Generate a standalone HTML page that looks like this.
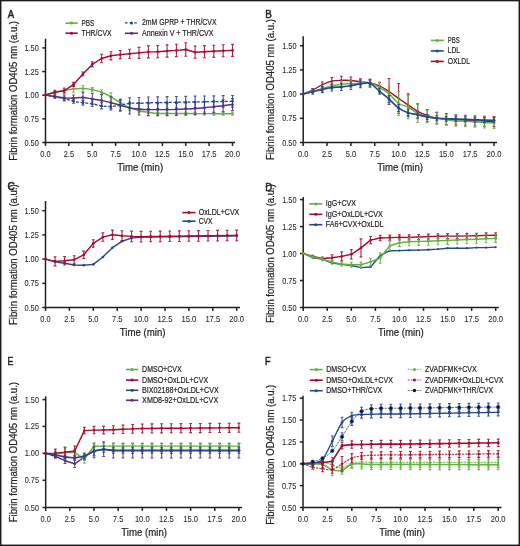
<!DOCTYPE html>
<html><head><meta charset="utf-8"><style>
html,body{margin:0;padding:0;background:#fff;}
body{width:520px;height:546px;overflow:hidden;}
svg{display:block;font-family:"Liberation Sans", sans-serif;will-change:transform;}
</style></head><body>
<svg width="520" height="546" viewBox="0 0 520 546">
<rect x="0" y="0" width="520" height="546" fill="#fff"/>
<g stroke="#231f20" stroke-width="1.5" fill="none">
<path d="M45.5 38.7V142.5H235"/>
<path d="M42.3 142.5H45.5"/>
<path d="M42.3 118.85H45.5"/>
<path d="M42.3 95.2H45.5"/>
<path d="M42.3 71.55H45.5"/>
<path d="M42.3 47.9H45.5"/>
<path d="M45.5 142.5V145.9"/>
<path d="M68.88 142.5V145.9"/>
<path d="M92.25 142.5V145.9"/>
<path d="M115.62 142.5V145.9"/>
<path d="M139 142.5V145.9"/>
<path d="M162.38 142.5V145.9"/>
<path d="M185.75 142.5V145.9"/>
<path d="M209.12 142.5V145.9"/>
<path d="M232.5 142.5V145.9"/>
</g>
<g fill="#231f20" stroke="#231f20" stroke-width="0.22">
<text x="38.8" y="145.5" font-size="8.6" text-anchor="end" textLength="14.3" lengthAdjust="spacingAndGlyphs" stroke-width="0.08">0.50</text>
<text x="38.8" y="121.85" font-size="8.6" text-anchor="end" textLength="14.3" lengthAdjust="spacingAndGlyphs" stroke-width="0.08">0.75</text>
<text x="38.8" y="98.2" font-size="8.6" text-anchor="end" textLength="14.3" lengthAdjust="spacingAndGlyphs" stroke-width="0.08">1.00</text>
<text x="38.8" y="74.55" font-size="8.6" text-anchor="end" textLength="14.3" lengthAdjust="spacingAndGlyphs" stroke-width="0.08">1.25</text>
<text x="38.8" y="50.9" font-size="8.6" text-anchor="end" textLength="14.3" lengthAdjust="spacingAndGlyphs" stroke-width="0.08">1.50</text>
<text x="45.5" y="157" font-size="8.6" text-anchor="middle" textLength="10.3" lengthAdjust="spacingAndGlyphs" stroke-width="0.08">0.0</text>
<text x="68.88" y="157" font-size="8.6" text-anchor="middle" textLength="10.3" lengthAdjust="spacingAndGlyphs" stroke-width="0.08">2.5</text>
<text x="92.25" y="157" font-size="8.6" text-anchor="middle" textLength="10.3" lengthAdjust="spacingAndGlyphs" stroke-width="0.08">5.0</text>
<text x="115.62" y="157" font-size="8.6" text-anchor="middle" textLength="10.3" lengthAdjust="spacingAndGlyphs" stroke-width="0.08">7.5</text>
<text x="139" y="157" font-size="8.6" text-anchor="middle" textLength="14.8" lengthAdjust="spacingAndGlyphs" stroke-width="0.08">10.0</text>
<text x="162.38" y="157" font-size="8.6" text-anchor="middle" textLength="14.8" lengthAdjust="spacingAndGlyphs" stroke-width="0.08">12.5</text>
<text x="185.75" y="157" font-size="8.6" text-anchor="middle" textLength="14.8" lengthAdjust="spacingAndGlyphs" stroke-width="0.08">15.0</text>
<text x="209.12" y="157" font-size="8.6" text-anchor="middle" textLength="14.8" lengthAdjust="spacingAndGlyphs" stroke-width="0.08">17.5</text>
<text x="232.5" y="157" font-size="8.6" text-anchor="middle" textLength="14.8" lengthAdjust="spacingAndGlyphs" stroke-width="0.08">20.0</text>
<text x="140.2" y="170.9" font-size="10.6" text-anchor="middle" textLength="45.8" lengthAdjust="spacingAndGlyphs">Time (min)</text>
<text transform="translate(16.5 90.9) rotate(-90)" x="0" y="0" font-size="10.2" text-anchor="middle" textLength="139.8" lengthAdjust="spacingAndGlyphs">Fibrin formation OD405 nm (a.u.)</text>
<text x="7.8" y="18.3" font-size="11.8" stroke-width="0.55" textLength="6.4" lengthAdjust="spacingAndGlyphs">A</text>
</g>
<path d="M54.85 90.1V94.1M53.45 90.1h2.8M53.45 94.1h2.8M64.2 87.8V93.8M62.8 87.8h2.8M62.8 93.8h2.8M73.55 85.3V92.3M72.15 85.3h2.8M72.15 92.3h2.8M82.9 85.5V91.5M81.5 85.5h2.8M81.5 91.5h2.8M92.25 87.6V91.6M90.85 87.6h2.8M90.85 91.6h2.8M101.6 89.8V94.8M100.2 89.8h2.8M100.2 94.8h2.8M110.95 92.9V100.9M109.55 92.9h2.8M109.55 100.9h2.8M120.3 99.2V106.2M118.9 99.2h2.8M118.9 106.2h2.8M129.65 104.7V110.7M128.25 104.7h2.8M128.25 110.7h2.8M139 108.7V112.7M137.6 108.7h2.8M137.6 112.7h2.8M148.35 110.8V113.8M146.95 110.8h2.8M146.95 113.8h2.8M157.7 112V115M156.3 112h2.8M156.3 115h2.8M167.05 112.03V115.03M165.65 112.03h2.8M165.65 115.03h2.8M176.4 112.05V115.05M175 112.05h2.8M175 115.05h2.8M185.75 112.08V115.08M184.35 112.08h2.8M184.35 115.08h2.8M195.1 112.1V115.1M193.7 112.1h2.8M193.7 115.1h2.8M204.45 112.12V115.12M203.05 112.12h2.8M203.05 115.12h2.8M213.8 112.15V115.15M212.4 112.15h2.8M212.4 115.15h2.8M223.15 112.17V115.17M221.75 112.17h2.8M221.75 115.17h2.8M232.5 112.2V115.2M231.1 112.2h2.8M231.1 115.2h2.8" stroke="#62b23e" stroke-width="1.1" fill="none" opacity="0.9"/>
<path d="M45.5 95C47.06 94.52 51.73 92.8 54.85 92.1C57.97 91.4 61.08 91.35 64.2 90.8C67.32 90.25 70.43 89.18 73.55 88.8C76.67 88.42 79.78 88.37 82.9 88.5C86.02 88.63 89.13 88.97 92.25 89.6C95.37 90.23 98.48 91.08 101.6 92.3C104.72 93.52 107.83 95.17 110.95 96.9C114.07 98.63 117.18 100.9 120.3 102.7C123.42 104.5 126.53 106.37 129.65 107.7C132.77 109.03 135.88 109.93 139 110.7C142.12 111.47 145.23 111.83 148.35 112.3C151.47 112.77 154.58 113.3 157.7 113.5C160.82 113.7 163.93 113.52 167.05 113.53C170.17 113.53 173.28 113.54 176.4 113.55C179.52 113.56 182.63 113.57 185.75 113.58C188.87 113.58 191.98 113.59 195.1 113.6C198.22 113.61 201.33 113.62 204.45 113.62C207.57 113.63 210.68 113.64 213.8 113.65C216.92 113.66 220.03 113.67 223.15 113.67C226.27 113.68 230.94 113.7 232.5 113.7" stroke="#62b23e" stroke-width="1.45" fill="none" stroke-linejoin="round" opacity="1"/>
<g fill="#62b23e"><circle cx="45.5" cy="95" r="1.3"/><circle cx="54.85" cy="92.1" r="1.3"/><circle cx="64.2" cy="90.8" r="1.3"/><circle cx="73.55" cy="88.8" r="1.3"/><circle cx="82.9" cy="88.5" r="1.3"/><circle cx="92.25" cy="89.6" r="1.3"/><circle cx="101.6" cy="92.3" r="1.3"/><circle cx="110.95" cy="96.9" r="1.3"/><circle cx="120.3" cy="102.7" r="1.3"/><circle cx="129.65" cy="107.7" r="1.3"/><circle cx="139" cy="110.7" r="1.3"/><circle cx="148.35" cy="112.3" r="1.3"/><circle cx="157.7" cy="113.5" r="1.3"/><circle cx="167.05" cy="113.53" r="1.3"/><circle cx="176.4" cy="113.55" r="1.3"/><circle cx="185.75" cy="113.58" r="1.3"/><circle cx="195.1" cy="113.6" r="1.3"/><circle cx="204.45" cy="113.62" r="1.3"/><circle cx="213.8" cy="113.65" r="1.3"/><circle cx="223.15" cy="113.67" r="1.3"/><circle cx="232.5" cy="113.7" r="1.3"/></g>
<path d="M54.85 95V98M53.45 95h2.8M53.45 98h2.8M64.2 95V101M62.8 95h2.8M62.8 101h2.8M73.55 95V101M72.15 95h2.8M72.15 101h2.8M82.9 92.5V102.5M81.5 92.5h2.8M81.5 102.5h2.8M92.25 93.5V104.5M90.85 93.5h2.8M90.85 104.5h2.8M101.6 94.4V106.4M100.2 94.4h2.8M100.2 106.4h2.8M110.95 96.7V108.7M109.55 96.7h2.8M109.55 108.7h2.8M120.3 99.2V111.2M118.9 99.2h2.8M118.9 111.2h2.8M129.65 102V114M128.25 102h2.8M128.25 114h2.8M139 103V115M137.6 103h2.8M137.6 115h2.8M148.35 103.6V115.6M146.95 103.6h2.8M146.95 115.6h2.8M157.7 103.6V115.6M156.3 103.6h2.8M156.3 115.6h2.8M167.05 103.6V115.6M165.65 103.6h2.8M165.65 115.6h2.8M176.4 103.4V115.4M175 103.4h2.8M175 115.4h2.8M185.75 103V115M184.35 103h2.8M184.35 115h2.8M195.1 102.5V114.5M193.7 102.5h2.8M193.7 114.5h2.8M204.45 101.7V113.7M203.05 101.7h2.8M203.05 113.7h2.8M213.8 100.7V112.7M212.4 100.7h2.8M212.4 112.7h2.8M223.15 99.8V111.8M221.75 99.8h2.8M221.75 111.8h2.8M232.5 98.6V110.6M231.1 98.6h2.8M231.1 110.6h2.8" stroke="#5c2d84" stroke-width="1.1" fill="none" opacity="0.9"/>
<path d="M45.5 95C47.06 95.25 51.73 96 54.85 96.5C57.97 97 61.08 97.75 64.2 98C67.32 98.25 70.43 98.08 73.55 98C76.67 97.92 79.78 97.33 82.9 97.5C86.02 97.67 89.13 98.52 92.25 99C95.37 99.48 98.48 99.78 101.6 100.4C104.72 101.02 107.83 101.9 110.95 102.7C114.07 103.5 117.18 104.32 120.3 105.2C123.42 106.08 126.53 107.37 129.65 108C132.77 108.63 135.88 108.73 139 109C142.12 109.27 145.23 109.5 148.35 109.6C151.47 109.7 154.58 109.6 157.7 109.6C160.82 109.6 163.93 109.63 167.05 109.6C170.17 109.57 173.28 109.5 176.4 109.4C179.52 109.3 182.63 109.15 185.75 109C188.87 108.85 191.98 108.72 195.1 108.5C198.22 108.28 201.33 108 204.45 107.7C207.57 107.4 210.68 107.02 213.8 106.7C216.92 106.38 220.03 106.15 223.15 105.8C226.27 105.45 230.94 104.8 232.5 104.6" stroke="#5c2d84" stroke-width="1.45" fill="none" stroke-linejoin="round" opacity="1"/>
<g fill="#5c2d84"><circle cx="45.5" cy="95" r="1.3"/><circle cx="54.85" cy="96.5" r="1.3"/><circle cx="64.2" cy="98" r="1.3"/><circle cx="73.55" cy="98" r="1.3"/><circle cx="82.9" cy="97.5" r="1.3"/><circle cx="92.25" cy="99" r="1.3"/><circle cx="101.6" cy="100.4" r="1.3"/><circle cx="110.95" cy="102.7" r="1.3"/><circle cx="120.3" cy="105.2" r="1.3"/><circle cx="129.65" cy="108" r="1.3"/><circle cx="139" cy="109" r="1.3"/><circle cx="148.35" cy="109.6" r="1.3"/><circle cx="157.7" cy="109.6" r="1.3"/><circle cx="167.05" cy="109.6" r="1.3"/><circle cx="176.4" cy="109.4" r="1.3"/><circle cx="185.75" cy="109" r="1.3"/><circle cx="195.1" cy="108.5" r="1.3"/><circle cx="204.45" cy="107.7" r="1.3"/><circle cx="213.8" cy="106.7" r="1.3"/><circle cx="223.15" cy="105.8" r="1.3"/><circle cx="232.5" cy="104.6" r="1.3"/></g>
<path d="M54.85 95.9V97.9M53.45 95.9h2.8M53.45 97.9h2.8M64.2 97V100M62.8 97h2.8M62.8 100h2.8M73.55 99.3V103.3M72.15 99.3h2.8M72.15 103.3h2.8M82.9 100.33V105.08M81.5 100.33h2.8M81.5 105.08h2.8M92.25 101.05V106.55M90.85 101.05h2.8M90.85 106.55h2.8M101.6 102.67V108.92M100.2 102.67h2.8M100.2 108.92h2.8M110.95 103V110M109.55 103h2.8M109.55 110h2.8M120.3 100.2V110.2M118.9 100.2h2.8M118.9 110.2h2.8M129.65 97.8V108.8M128.25 97.8h2.8M128.25 108.8h2.8M139 97.5V109.1M137.6 97.5h2.8M137.6 109.1h2.8M148.35 97V108.6M146.95 97h2.8M146.95 108.6h2.8M157.7 96.83V108.43M156.3 96.83h2.8M156.3 108.43h2.8M167.05 96.67V108.27M165.65 96.67h2.8M165.65 108.27h2.8M176.4 96.5V108.1M175 96.5h2.8M175 108.1h2.8M185.75 96.33V107.93M184.35 96.33h2.8M184.35 107.93h2.8M195.1 96.17V107.77M193.7 96.17h2.8M193.7 107.77h2.8M204.45 96V107.6M203.05 96h2.8M203.05 107.6h2.8M213.8 95.83V107.43M212.4 95.83h2.8M212.4 107.43h2.8M223.15 95.67V107.27M221.75 95.67h2.8M221.75 107.27h2.8M232.5 95.5V107.1M231.1 95.5h2.8M231.1 107.1h2.8" stroke="#24488a" stroke-width="1.1" fill="none" opacity="0.9"/>
<path d="M45.5 95C47.06 95.32 51.73 96.32 54.85 96.9C57.97 97.48 61.08 97.77 64.2 98.5C67.32 99.23 70.43 100.6 73.55 101.3C76.67 102 79.78 102.28 82.9 102.7C86.02 103.12 89.13 103.28 92.25 103.8C95.37 104.32 98.48 105.35 101.6 105.8C104.72 106.25 107.83 106.6 110.95 106.5C114.07 106.4 117.18 105.73 120.3 105.2C123.42 104.67 126.53 103.62 129.65 103.3C132.77 102.98 135.88 103.38 139 103.3C142.12 103.22 145.23 102.91 148.35 102.8C151.47 102.69 154.58 102.69 157.7 102.63C160.82 102.58 163.93 102.52 167.05 102.47C170.17 102.41 173.28 102.36 176.4 102.3C179.52 102.24 182.63 102.19 185.75 102.13C188.87 102.08 191.98 102.02 195.1 101.97C198.22 101.91 201.33 101.86 204.45 101.8C207.57 101.74 210.68 101.69 213.8 101.63C216.92 101.58 220.03 101.52 223.15 101.47C226.27 101.41 230.94 101.33 232.5 101.3" stroke="#24488a" stroke-width="1.3" fill="none" stroke-dasharray="3 1.675" stroke-dashoffset="1.5" stroke-linejoin="round" opacity="1"/>
<g fill="#24488a"><circle cx="45.5" cy="95" r="1.3"/><circle cx="54.85" cy="96.9" r="1.3"/><circle cx="64.2" cy="98.5" r="1.3"/><circle cx="73.55" cy="101.3" r="1.3"/><circle cx="82.9" cy="102.7" r="1.3"/><circle cx="92.25" cy="103.8" r="1.3"/><circle cx="101.6" cy="105.8" r="1.3"/><circle cx="110.95" cy="106.5" r="1.3"/><circle cx="120.3" cy="105.2" r="1.3"/><circle cx="129.65" cy="103.3" r="1.3"/><circle cx="139" cy="103.3" r="1.3"/><circle cx="148.35" cy="102.8" r="1.3"/><circle cx="157.7" cy="102.63" r="1.3"/><circle cx="167.05" cy="102.47" r="1.3"/><circle cx="176.4" cy="102.3" r="1.3"/><circle cx="185.75" cy="102.13" r="1.3"/><circle cx="195.1" cy="101.97" r="1.3"/><circle cx="204.45" cy="101.8" r="1.3"/><circle cx="213.8" cy="101.63" r="1.3"/><circle cx="223.15" cy="101.47" r="1.3"/><circle cx="232.5" cy="101.3" r="1.3"/></g>
<path d="M54.85 90.8V93.8M53.45 90.8h2.8M53.45 93.8h2.8M64.2 88.8V92.8M62.8 88.8h2.8M62.8 92.8h2.8M73.55 82.4V86.4M72.15 82.4h2.8M72.15 86.4h2.8M82.9 72V76M81.5 72h2.8M81.5 76h2.8M92.25 61.9V66.9M90.85 61.9h2.8M90.85 66.9h2.8M101.6 54.2V62.8M100.2 54.2h2.8M100.2 62.8h2.8M110.95 51.7V59.9M109.55 51.7h2.8M109.55 59.9h2.8M120.3 50.6V58.6M118.9 50.6h2.8M118.9 58.6h2.8M129.65 49.2V58.2M128.25 49.2h2.8M128.25 58.2h2.8M139 47.4V58.4M137.6 47.4h2.8M137.6 58.4h2.8M148.35 45.9V57.9M146.95 45.9h2.8M146.95 57.9h2.8M157.7 45.63V57.77M156.3 45.63h2.8M156.3 57.77h2.8M167.05 44.87V57.13M165.65 44.87h2.8M165.65 57.13h2.8M176.4 44.2V56.6M175 44.2h2.8M175 56.6h2.8M185.75 42.7V56.3M184.35 42.7h2.8M184.35 56.3h2.8M195.1 46.1V58.3M193.7 46.1h2.8M193.7 58.3h2.8M204.45 45.62V57.78M203.05 45.62h2.8M203.05 57.78h2.8M213.8 45.25V57.35M212.4 45.25h2.8M212.4 57.35h2.8M223.15 44.77V56.82M221.75 44.77h2.8M221.75 56.82h2.8M232.5 44.4V56.4M231.1 44.4h2.8M231.1 56.4h2.8" stroke="#a90a32" stroke-width="1.1" fill="none" opacity="0.9"/>
<path d="M45.5 95 L54.85 92.3 L64.2 90.8 L73.55 84.4 L82.9 74 L92.25 64.4 L101.6 58.5 L110.95 55.8 L120.3 54.6 L129.65 53.7 L139 52.9 L148.35 51.9 L157.7 51.7 L167.05 51 L176.4 50.4 L185.75 49.5 L195.1 52.2 L204.45 51.7 L213.8 51.3 L223.15 50.8 L232.5 50.4" stroke="#a90a32" stroke-width="1.45" fill="none" stroke-linejoin="round" opacity="1"/>
<g fill="#a90a32"><circle cx="45.5" cy="95" r="1.3"/><circle cx="54.85" cy="92.3" r="1.3"/><circle cx="64.2" cy="90.8" r="1.3"/><circle cx="73.55" cy="84.4" r="1.3"/><circle cx="82.9" cy="74" r="1.3"/><circle cx="92.25" cy="64.4" r="1.3"/><circle cx="101.6" cy="58.5" r="1.3"/><circle cx="110.95" cy="55.8" r="1.3"/><circle cx="120.3" cy="54.6" r="1.3"/><circle cx="129.65" cy="53.7" r="1.3"/><circle cx="139" cy="52.9" r="1.3"/><circle cx="148.35" cy="51.9" r="1.3"/><circle cx="157.7" cy="51.7" r="1.3"/><circle cx="167.05" cy="51" r="1.3"/><circle cx="176.4" cy="50.4" r="1.3"/><circle cx="185.75" cy="49.5" r="1.3"/><circle cx="195.1" cy="52.2" r="1.3"/><circle cx="204.45" cy="51.7" r="1.3"/><circle cx="213.8" cy="51.3" r="1.3"/><circle cx="223.15" cy="50.8" r="1.3"/><circle cx="232.5" cy="50.4" r="1.3"/></g>
<path d="M65.4 23.1H77.7" stroke="#62b23e" stroke-width="1.6" opacity="1"/>
<circle cx="71.55" cy="23.1" r="1.5" fill="#62b23e"/>
<text x="81.5" y="25.6" font-size="9" fill="#231f20" stroke="#231f20" stroke-width="0.2" textLength="12.7" lengthAdjust="spacingAndGlyphs">PBS</text>
<path d="M65.4 33.2H77.7" stroke="#a90a32" stroke-width="1.6" opacity="1"/>
<circle cx="71.55" cy="33.2" r="1.5" fill="#a90a32"/>
<text x="81.5" y="35.7" font-size="9" fill="#231f20" stroke="#231f20" stroke-width="0.2" textLength="30" lengthAdjust="spacingAndGlyphs">THR/CVX</text>
<path d="M125 22.9H138" stroke="#24488a" stroke-width="1.4" stroke-dasharray="2.6 2" opacity="1"/>
<circle cx="131.5" cy="22.9" r="1.5" fill="#24488a"/>
<text x="142" y="25.4" font-size="9" fill="#231f20" stroke="#231f20" stroke-width="0.2" textLength="74.5" lengthAdjust="spacingAndGlyphs">2mM GPRP + THR/CVX</text>
<path d="M125 33.3H138" stroke="#5c2d84" stroke-width="1.6" opacity="1"/>
<circle cx="131.5" cy="33.3" r="1.5" fill="#5c2d84"/>
<text x="142" y="35.8" font-size="9" fill="#231f20" stroke="#231f20" stroke-width="0.2" textLength="71.5" lengthAdjust="spacingAndGlyphs">Annexin V + THR/CVX</text>
<g stroke="#231f20" stroke-width="1.5" fill="none">
<path d="M303.2 36.2V142.5H497"/>
<path d="M300 142.5H303.2"/>
<path d="M300 118.3H303.2"/>
<path d="M300 94.1H303.2"/>
<path d="M300 69.9H303.2"/>
<path d="M300 45.8H303.2"/>
<path d="M303.2 142.5V145.9"/>
<path d="M327.05 142.5V145.9"/>
<path d="M350.9 142.5V145.9"/>
<path d="M374.75 142.5V145.9"/>
<path d="M398.6 142.5V145.9"/>
<path d="M422.45 142.5V145.9"/>
<path d="M446.3 142.5V145.9"/>
<path d="M470.15 142.5V145.9"/>
<path d="M494 142.5V145.9"/>
</g>
<g fill="#231f20" stroke="#231f20" stroke-width="0.22">
<text x="296.5" y="145.5" font-size="8.6" text-anchor="end" textLength="14.3" lengthAdjust="spacingAndGlyphs" stroke-width="0.08">0.50</text>
<text x="296.5" y="121.3" font-size="8.6" text-anchor="end" textLength="14.3" lengthAdjust="spacingAndGlyphs" stroke-width="0.08">0.75</text>
<text x="296.5" y="97.1" font-size="8.6" text-anchor="end" textLength="14.3" lengthAdjust="spacingAndGlyphs" stroke-width="0.08">1.00</text>
<text x="296.5" y="72.9" font-size="8.6" text-anchor="end" textLength="14.3" lengthAdjust="spacingAndGlyphs" stroke-width="0.08">1.25</text>
<text x="296.5" y="48.8" font-size="8.6" text-anchor="end" textLength="14.3" lengthAdjust="spacingAndGlyphs" stroke-width="0.08">1.50</text>
<text x="303.2" y="157" font-size="8.6" text-anchor="middle" textLength="10.3" lengthAdjust="spacingAndGlyphs" stroke-width="0.08">0.0</text>
<text x="327.05" y="157" font-size="8.6" text-anchor="middle" textLength="10.3" lengthAdjust="spacingAndGlyphs" stroke-width="0.08">2.5</text>
<text x="350.9" y="157" font-size="8.6" text-anchor="middle" textLength="10.3" lengthAdjust="spacingAndGlyphs" stroke-width="0.08">5.0</text>
<text x="374.75" y="157" font-size="8.6" text-anchor="middle" textLength="10.3" lengthAdjust="spacingAndGlyphs" stroke-width="0.08">7.5</text>
<text x="398.6" y="157" font-size="8.6" text-anchor="middle" textLength="14.8" lengthAdjust="spacingAndGlyphs" stroke-width="0.08">10.0</text>
<text x="422.45" y="157" font-size="8.6" text-anchor="middle" textLength="14.8" lengthAdjust="spacingAndGlyphs" stroke-width="0.08">12.5</text>
<text x="446.3" y="157" font-size="8.6" text-anchor="middle" textLength="14.8" lengthAdjust="spacingAndGlyphs" stroke-width="0.08">15.0</text>
<text x="470.15" y="157" font-size="8.6" text-anchor="middle" textLength="14.8" lengthAdjust="spacingAndGlyphs" stroke-width="0.08">17.5</text>
<text x="494" y="157" font-size="8.6" text-anchor="middle" textLength="14.8" lengthAdjust="spacingAndGlyphs" stroke-width="0.08">20.0</text>
<text x="400.1" y="170.9" font-size="10.6" text-anchor="middle" textLength="45.8" lengthAdjust="spacingAndGlyphs">Time (min)</text>
<text transform="translate(273.8 89.5) rotate(-90)" x="0" y="0" font-size="10.2" text-anchor="middle" textLength="141" lengthAdjust="spacingAndGlyphs">Fibrin formation OD405 nm (a.u.)</text>
<text x="265.2" y="18.3" font-size="11.8" stroke-width="0.55" textLength="6.6" lengthAdjust="spacingAndGlyphs">B</text>
</g>
<path d="M312.74 88.5V91.5M311.34 88.5h2.8M311.34 91.5h2.8M322.28 82.05V87.45M320.88 82.05h2.8M320.88 87.45h2.8M331.82 77.6V84.8M330.42 77.6h2.8M330.42 84.8h2.8M341.36 76.3V84.3M339.96 76.3h2.8M339.96 84.3h2.8M350.9 77V84M349.5 77h2.8M349.5 84h2.8M360.44 78.8V84.8M359.04 78.8h2.8M359.04 84.8h2.8M369.98 80.3V85.3M368.58 80.3h2.8M368.58 85.3h2.8M379.52 82.8V88.8M378.12 82.8h2.8M378.12 88.8h2.8M389.06 78.5V104.5M387.66 78.5h2.8M387.66 104.5h2.8M398.6 83.5V113.5M397.2 83.5h2.8M397.2 113.5h2.8M408.14 93.9V115.9M406.74 93.9h2.8M406.74 115.9h2.8M417.68 103.9V118.7M416.28 103.9h2.8M416.28 118.7h2.8M427.22 109.5V121.5M425.82 109.5h2.8M425.82 121.5h2.8M436.76 112.4V124M435.36 112.4h2.8M435.36 124h2.8M446.3 113.5V124.5M444.9 113.5h2.8M444.9 124.5h2.8M455.84 114.9V124.9M454.44 114.9h2.8M454.44 124.9h2.8M465.38 115.3V125.3M463.98 115.3h2.8M463.98 125.3h2.8M474.92 115.8V125.8M473.52 115.8h2.8M473.52 125.8h2.8M484.46 116.2V126.2M483.06 116.2h2.8M483.06 126.2h2.8M494 116.6V126.6M492.6 116.6h2.8M492.6 126.6h2.8" stroke="#a90a32" stroke-width="1.1" fill="none" opacity="0.9"/>
<path d="M303.2 94C304.79 93.33 309.56 91.54 312.74 90C315.92 88.46 319.1 86.22 322.28 84.75C325.46 83.28 328.64 81.94 331.82 81.2C335 80.46 338.18 80.42 341.36 80.3C344.54 80.18 347.72 80.25 350.9 80.5C354.08 80.75 357.26 81.42 360.44 81.8C363.62 82.18 366.8 82.13 369.98 82.8C373.16 83.47 376.34 84.35 379.52 85.8C382.7 87.25 385.88 89.38 389.06 91.5C392.24 93.62 395.42 96.27 398.6 98.5C401.78 100.73 404.96 102.77 408.14 104.9C411.32 107.03 414.5 109.53 417.68 111.3C420.86 113.07 424.04 114.35 427.22 115.5C430.4 116.65 433.58 117.62 436.76 118.2C439.94 118.78 443.12 118.72 446.3 119C449.48 119.28 452.66 119.68 455.84 119.9C459.02 120.12 462.2 120.15 465.38 120.3C468.56 120.45 471.74 120.65 474.92 120.8C478.1 120.95 481.28 121.07 484.46 121.2C487.64 121.33 492.41 121.53 494 121.6" stroke="#a90a32" stroke-width="1.35" fill="none" stroke-linejoin="round" opacity="1"/>
<g fill="#a90a32"><circle cx="303.2" cy="94" r="1"/><circle cx="312.74" cy="90" r="1"/><circle cx="322.28" cy="84.75" r="1"/><circle cx="331.82" cy="81.2" r="1"/><circle cx="341.36" cy="80.3" r="1"/><circle cx="350.9" cy="80.5" r="1"/><circle cx="360.44" cy="81.8" r="1"/><circle cx="369.98" cy="82.8" r="1"/><circle cx="379.52" cy="85.8" r="1"/><circle cx="389.06" cy="91.5" r="1"/><circle cx="398.6" cy="98.5" r="1"/><circle cx="408.14" cy="104.9" r="1"/><circle cx="417.68" cy="111.3" r="1"/><circle cx="427.22" cy="115.5" r="1"/><circle cx="436.76" cy="118.2" r="1"/><circle cx="446.3" cy="119" r="1"/><circle cx="455.84" cy="119.9" r="1"/><circle cx="465.38" cy="120.3" r="1"/><circle cx="474.92" cy="120.8" r="1"/><circle cx="484.46" cy="121.2" r="1"/><circle cx="494" cy="121.6" r="1"/></g>
<path d="M312.74 89.3V93.3M311.34 89.3h2.8M311.34 93.3h2.8M322.28 85.6V91.6M320.88 85.6h2.8M320.88 91.6h2.8M331.82 82.9V89.1M330.42 82.9h2.8M330.42 89.1h2.8M341.36 81.1V87.5M339.96 81.1h2.8M339.96 87.5h2.8M350.9 80.4V87M349.5 80.4h2.8M349.5 87h2.8M360.44 79.9V86.7M359.04 79.9h2.8M359.04 86.7h2.8M369.98 79.3V86.3M368.58 79.3h2.8M368.58 86.3h2.8M379.52 82V93M378.12 82h2.8M378.12 93h2.8M389.06 86.8V100.8M387.66 86.8h2.8M387.66 100.8h2.8M398.6 91.5V115.5M397.2 91.5h2.8M397.2 115.5h2.8M408.14 95.4V118.6M406.74 95.4h2.8M406.74 118.6h2.8M417.68 104.4V122.4M416.28 104.4h2.8M416.28 122.4h2.8M427.22 110.2V122.8M425.82 110.2h2.8M425.82 122.8h2.8M436.76 112.7V123.7M435.36 112.7h2.8M435.36 123.7h2.8M446.3 114.2V125.2M444.9 114.2h2.8M444.9 125.2h2.8M455.84 115.3V126.3M454.44 115.3h2.8M454.44 126.3h2.8M465.38 115.7V126.7M463.98 115.7h2.8M463.98 126.7h2.8M474.92 116.3V127.3M473.52 116.3h2.8M473.52 127.3h2.8M484.46 117V128M483.06 117h2.8M483.06 128h2.8M494 117.4V128.4M492.6 117.4h2.8M492.6 128.4h2.8" stroke="#62b23e" stroke-width="1.1" fill="none" opacity="0.9"/>
<path d="M303.2 94C304.79 93.55 309.56 92.2 312.74 91.3C315.92 90.4 319.1 89.48 322.28 88.6C325.46 87.72 328.64 86.72 331.82 86C335 85.28 338.18 84.68 341.36 84.3C344.54 83.92 347.72 83.87 350.9 83.7C354.08 83.53 357.26 83.45 360.44 83.3C363.62 83.15 366.8 82.1 369.98 82.8C373.16 83.5 376.34 85.67 379.52 87.5C382.7 89.33 385.88 91.13 389.06 93.8C392.24 96.47 395.42 101.3 398.6 103.5C401.78 105.7 404.96 105.35 408.14 107C411.32 108.65 414.5 111.82 417.68 113.4C420.86 114.98 424.04 115.7 427.22 116.5C430.4 117.3 433.58 117.67 436.76 118.2C439.94 118.73 443.12 119.27 446.3 119.7C449.48 120.13 452.66 120.55 455.84 120.8C459.02 121.05 462.2 121.03 465.38 121.2C468.56 121.37 471.74 121.58 474.92 121.8C478.1 122.02 481.28 122.32 484.46 122.5C487.64 122.68 492.41 122.83 494 122.9" stroke="#62b23e" stroke-width="1.45" fill="none" stroke-linejoin="round" opacity="1"/>
<g fill="#62b23e"><circle cx="303.2" cy="94" r="1.3"/><circle cx="312.74" cy="91.3" r="1.3"/><circle cx="322.28" cy="88.6" r="1.3"/><circle cx="331.82" cy="86" r="1.3"/><circle cx="341.36" cy="84.3" r="1.3"/><circle cx="350.9" cy="83.7" r="1.3"/><circle cx="360.44" cy="83.3" r="1.3"/><circle cx="369.98" cy="82.8" r="1.3"/><circle cx="379.52" cy="87.5" r="1.3"/><circle cx="389.06" cy="93.8" r="1.3"/><circle cx="398.6" cy="103.5" r="1.3"/><circle cx="408.14" cy="107" r="1.3"/><circle cx="417.68" cy="113.4" r="1.3"/><circle cx="427.22" cy="116.5" r="1.3"/><circle cx="436.76" cy="118.2" r="1.3"/><circle cx="446.3" cy="119.7" r="1.3"/><circle cx="455.84" cy="120.8" r="1.3"/><circle cx="465.38" cy="121.2" r="1.3"/><circle cx="474.92" cy="121.8" r="1.3"/><circle cx="484.46" cy="122.5" r="1.3"/><circle cx="494" cy="122.9" r="1.3"/></g>
<path d="M312.74 89.2V94.2M311.34 89.2h2.8M311.34 94.2h2.8M322.28 86.6V92.6M320.88 86.6h2.8M320.88 92.6h2.8M331.82 84V91M330.42 84h2.8M330.42 91h2.8M341.36 83.28V90.53M339.96 83.28h2.8M339.96 90.53h2.8M350.9 82.05V89.55M349.5 82.05h2.8M349.5 89.55h2.8M360.44 80.03V87.78M359.04 80.03h2.8M359.04 87.78h2.8M369.98 79.3V87.3M368.58 79.3h2.8M368.58 87.3h2.8M379.52 88.3V94.3M378.12 88.3h2.8M378.12 94.3h2.8M389.06 95.6V102.6M387.66 95.6h2.8M387.66 102.6h2.8M398.6 104.6V111.6M397.2 104.6h2.8M397.2 111.6h2.8M408.14 109.2V116.2M406.74 109.2h2.8M406.74 116.2h2.8M417.68 111.8V117.8M416.28 111.8h2.8M416.28 117.8h2.8M427.22 114.5V119.5M425.82 114.5h2.8M425.82 119.5h2.8M436.76 115.7V120.7M435.36 115.7h2.8M435.36 120.7h2.8M446.3 116.2V121.2M444.9 116.2h2.8M444.9 121.2h2.8M455.84 116.5V121.5M454.44 116.5h2.8M454.44 121.5h2.8M465.38 116.8V121.8M463.98 116.8h2.8M463.98 121.8h2.8M474.92 117.2V122.2M473.52 117.2h2.8M473.52 122.2h2.8M484.46 117.6V122.6M483.06 117.6h2.8M483.06 122.6h2.8M494 117.8V122.8M492.6 117.8h2.8M492.6 122.8h2.8" stroke="#24488a" stroke-width="1.1" fill="none" opacity="0.9"/>
<path d="M303.2 94C304.79 93.62 309.56 92.43 312.74 91.7C315.92 90.97 319.1 90.3 322.28 89.6C325.46 88.9 328.64 87.95 331.82 87.5C335 87.05 338.18 87.18 341.36 86.9C344.54 86.62 347.72 86.3 350.9 85.8C354.08 85.3 357.26 84.32 360.44 83.9C363.62 83.48 366.8 82.07 369.98 83.3C373.16 84.53 376.34 88.67 379.52 91.3C382.7 93.93 385.88 96.3 389.06 99.1C392.24 101.9 395.42 105.83 398.6 108.1C401.78 110.37 404.96 111.58 408.14 112.7C411.32 113.82 414.5 114.08 417.68 114.8C420.86 115.52 424.04 116.43 427.22 117C430.4 117.57 433.58 117.92 436.76 118.2C439.94 118.48 443.12 118.57 446.3 118.7C449.48 118.83 452.66 118.9 455.84 119C459.02 119.1 462.2 119.18 465.38 119.3C468.56 119.42 471.74 119.57 474.92 119.7C478.1 119.83 481.28 120 484.46 120.1C487.64 120.2 492.41 120.27 494 120.3" stroke="#24488a" stroke-width="1.6" fill="none" stroke-linejoin="round" opacity="1"/>
<g fill="#24488a"><circle cx="303.2" cy="94" r="1.5"/><circle cx="312.74" cy="91.7" r="1.5"/><circle cx="322.28" cy="89.6" r="1.5"/><circle cx="331.82" cy="87.5" r="1.5"/><circle cx="341.36" cy="86.9" r="1.5"/><circle cx="350.9" cy="85.8" r="1.5"/><circle cx="360.44" cy="83.9" r="1.5"/><circle cx="369.98" cy="83.3" r="1.5"/><circle cx="379.52" cy="91.3" r="1.5"/><circle cx="389.06" cy="99.1" r="1.5"/><circle cx="398.6" cy="108.1" r="1.5"/><circle cx="408.14" cy="112.7" r="1.5"/><circle cx="417.68" cy="114.8" r="1.5"/><circle cx="427.22" cy="117" r="1.5"/><circle cx="436.76" cy="118.2" r="1.5"/><circle cx="446.3" cy="118.7" r="1.5"/><circle cx="455.84" cy="119" r="1.5"/><circle cx="465.38" cy="119.3" r="1.5"/><circle cx="474.92" cy="119.7" r="1.5"/><circle cx="484.46" cy="120.1" r="1.5"/><circle cx="494" cy="120.3" r="1.5"/></g>
<path d="M430.8 40.4H443.8" stroke="#62b23e" stroke-width="1.6" opacity="1"/>
<circle cx="437.3" cy="40.4" r="1.5" fill="#62b23e"/>
<text x="447.7" y="42.9" font-size="9" fill="#231f20" stroke="#231f20" stroke-width="0.2" textLength="12" lengthAdjust="spacingAndGlyphs">PBS</text>
<path d="M430.8 50.9H443.8" stroke="#24488a" stroke-width="1.6" opacity="1"/>
<circle cx="437.3" cy="50.9" r="1.5" fill="#24488a"/>
<text x="447.7" y="53.4" font-size="9" fill="#231f20" stroke="#231f20" stroke-width="0.2" textLength="12.3" lengthAdjust="spacingAndGlyphs">LDL</text>
<path d="M430.8 61.4H443.8" stroke="#a90a32" stroke-width="1.6" opacity="1"/>
<circle cx="437.3" cy="61.4" r="1.5" fill="#a90a32"/>
<text x="447.7" y="63.9" font-size="9" fill="#231f20" stroke="#231f20" stroke-width="0.2" textLength="22.3" lengthAdjust="spacingAndGlyphs">OXLDL</text>
<g stroke="#231f20" stroke-width="1.5" fill="none">
<path d="M45.5 201V307.5H240"/>
<path d="M42.3 307.5H45.5"/>
<path d="M42.3 283.3H45.5"/>
<path d="M42.3 259.1H45.5"/>
<path d="M42.3 234.9H45.5"/>
<path d="M42.3 210.7H45.5"/>
<path d="M45.5 307.5V310.9"/>
<path d="M69.4 307.5V310.9"/>
<path d="M93.3 307.5V310.9"/>
<path d="M117.2 307.5V310.9"/>
<path d="M141.1 307.5V310.9"/>
<path d="M165 307.5V310.9"/>
<path d="M188.9 307.5V310.9"/>
<path d="M212.8 307.5V310.9"/>
<path d="M236.7 307.5V310.9"/>
</g>
<g fill="#231f20" stroke="#231f20" stroke-width="0.22">
<text x="38.8" y="310.5" font-size="8.6" text-anchor="end" textLength="14.3" lengthAdjust="spacingAndGlyphs" stroke-width="0.08">0.50</text>
<text x="38.8" y="286.3" font-size="8.6" text-anchor="end" textLength="14.3" lengthAdjust="spacingAndGlyphs" stroke-width="0.08">0.75</text>
<text x="38.8" y="262.1" font-size="8.6" text-anchor="end" textLength="14.3" lengthAdjust="spacingAndGlyphs" stroke-width="0.08">1.00</text>
<text x="38.8" y="237.9" font-size="8.6" text-anchor="end" textLength="14.3" lengthAdjust="spacingAndGlyphs" stroke-width="0.08">1.25</text>
<text x="38.8" y="213.7" font-size="8.6" text-anchor="end" textLength="14.3" lengthAdjust="spacingAndGlyphs" stroke-width="0.08">1.50</text>
<text x="45.5" y="322" font-size="8.6" text-anchor="middle" textLength="10.3" lengthAdjust="spacingAndGlyphs" stroke-width="0.08">0.0</text>
<text x="69.4" y="322" font-size="8.6" text-anchor="middle" textLength="10.3" lengthAdjust="spacingAndGlyphs" stroke-width="0.08">2.5</text>
<text x="93.3" y="322" font-size="8.6" text-anchor="middle" textLength="10.3" lengthAdjust="spacingAndGlyphs" stroke-width="0.08">5.0</text>
<text x="117.2" y="322" font-size="8.6" text-anchor="middle" textLength="10.3" lengthAdjust="spacingAndGlyphs" stroke-width="0.08">7.5</text>
<text x="141.1" y="322" font-size="8.6" text-anchor="middle" textLength="14.8" lengthAdjust="spacingAndGlyphs" stroke-width="0.08">10.0</text>
<text x="165" y="322" font-size="8.6" text-anchor="middle" textLength="14.8" lengthAdjust="spacingAndGlyphs" stroke-width="0.08">12.5</text>
<text x="188.9" y="322" font-size="8.6" text-anchor="middle" textLength="14.8" lengthAdjust="spacingAndGlyphs" stroke-width="0.08">15.0</text>
<text x="212.8" y="322" font-size="8.6" text-anchor="middle" textLength="14.8" lengthAdjust="spacingAndGlyphs" stroke-width="0.08">17.5</text>
<text x="236.7" y="322" font-size="8.6" text-anchor="middle" textLength="14.8" lengthAdjust="spacingAndGlyphs" stroke-width="0.08">20.0</text>
<text x="142.6" y="335.9" font-size="10.6" text-anchor="middle" textLength="45.8" lengthAdjust="spacingAndGlyphs">Time (min)</text>
<text transform="translate(16.5 254.6) rotate(-90)" x="0" y="0" font-size="10.2" text-anchor="middle" textLength="140.8" lengthAdjust="spacingAndGlyphs">Fibrin formation OD405 nm (a.u.)</text>
<text x="7.5" y="190.3" font-size="11.8" stroke-width="0.55" textLength="7.3" lengthAdjust="spacingAndGlyphs">C</text>
</g>
<path d="" stroke="#24488a" stroke-width="1.1" fill="none" opacity="0.9"/>
<path d="M45.5 259.1 L55.06 261.8 L64.62 263.3 L74.18 265 L83.74 265.2 L93.3 264.4 L102.86 257 L112.42 247.7 L121.98 241.3 L131.54 238.1 L141.1 237.1 L150.66 237 L160.22 236.87 L169.78 236.73 L179.34 236.6 L188.9 236.47 L198.46 236.33 L208.02 236.2 L217.58 236.07 L227.14 235.93 L236.7 235.8" stroke="#24488a" stroke-width="1.45" fill="none" stroke-linejoin="round" opacity="1"/>
<g fill="#24488a"><circle cx="45.5" cy="259.1" r="1.3"/><circle cx="55.06" cy="261.8" r="1.3"/><circle cx="64.62" cy="263.3" r="1.3"/><circle cx="74.18" cy="265" r="1.3"/><circle cx="83.74" cy="265.2" r="1.3"/><circle cx="93.3" cy="264.4" r="1.3"/><circle cx="102.86" cy="257" r="1.3"/><circle cx="112.42" cy="247.7" r="1.3"/><circle cx="121.98" cy="241.3" r="1.3"/><circle cx="131.54" cy="238.1" r="1.3"/><circle cx="141.1" cy="237.1" r="1.3"/><circle cx="150.66" cy="237" r="1.3"/><circle cx="160.22" cy="236.87" r="1.3"/><circle cx="169.78" cy="236.73" r="1.3"/><circle cx="179.34" cy="236.6" r="1.3"/><circle cx="188.9" cy="236.47" r="1.3"/><circle cx="198.46" cy="236.33" r="1.3"/><circle cx="208.02" cy="236.2" r="1.3"/><circle cx="217.58" cy="236.07" r="1.3"/><circle cx="227.14" cy="235.93" r="1.3"/><circle cx="236.7" cy="235.8" r="1.3"/></g>
<path d="M55.06 256.9V265.9M53.66 256.9h2.8M53.66 265.9h2.8M64.62 256.6V265M63.22 256.6h2.8M63.22 265h2.8M74.18 255.7V263.7M72.78 255.7h2.8M72.78 263.7h2.8M83.74 251.1V258.5M82.34 251.1h2.8M82.34 258.5h2.8M93.3 239.7V247.1M91.9 239.7h2.8M91.9 247.1h2.8M102.86 232.9V241.3M101.46 232.9h2.8M101.46 241.3h2.8M112.42 230.1V239.5M111.02 230.1h2.8M111.02 239.5h2.8M121.98 230.8V240.8M120.58 230.8h2.8M120.58 240.8h2.8M131.54 231.1V241.7M130.14 231.1h2.8M130.14 241.7h2.8M141.1 231.4V242M139.7 231.4h2.8M139.7 242h2.8M150.66 231.2V241.8M149.26 231.2h2.8M149.26 241.8h2.8M160.22 231.08V241.68M158.82 231.08h2.8M158.82 241.68h2.8M169.78 230.96V241.56M168.38 230.96h2.8M168.38 241.56h2.8M179.34 230.83V241.43M177.94 230.83h2.8M177.94 241.43h2.8M188.9 230.71V241.31M187.5 230.71h2.8M187.5 241.31h2.8M198.46 230.59V241.19M197.06 230.59h2.8M197.06 241.19h2.8M208.02 230.47V241.07M206.62 230.47h2.8M206.62 241.07h2.8M217.58 230.34V240.94M216.18 230.34h2.8M216.18 240.94h2.8M227.14 230.22V240.82M225.74 230.22h2.8M225.74 240.82h2.8M236.7 230.1V240.7M235.3 230.1h2.8M235.3 240.7h2.8" stroke="#a90a32" stroke-width="1.1" fill="none" opacity="0.9"/>
<path d="M45.5 259.1 L55.06 261.4 L64.62 260.8 L74.18 259.7 L83.74 254.8 L93.3 243.4 L102.86 237.1 L112.42 234.8 L121.98 235.8 L131.54 236.4 L141.1 236.7 L150.66 236.5 L160.22 236.38 L169.78 236.26 L179.34 236.13 L188.9 236.01 L198.46 235.89 L208.02 235.77 L217.58 235.64 L227.14 235.52 L236.7 235.4" stroke="#a90a32" stroke-width="1.45" fill="none" stroke-linejoin="round" opacity="1"/>
<g fill="#a90a32"><circle cx="45.5" cy="259.1" r="1.3"/><circle cx="55.06" cy="261.4" r="1.3"/><circle cx="64.62" cy="260.8" r="1.3"/><circle cx="74.18" cy="259.7" r="1.3"/><circle cx="83.74" cy="254.8" r="1.3"/><circle cx="93.3" cy="243.4" r="1.3"/><circle cx="102.86" cy="237.1" r="1.3"/><circle cx="112.42" cy="234.8" r="1.3"/><circle cx="121.98" cy="235.8" r="1.3"/><circle cx="131.54" cy="236.4" r="1.3"/><circle cx="141.1" cy="236.7" r="1.3"/><circle cx="150.66" cy="236.5" r="1.3"/><circle cx="160.22" cy="236.38" r="1.3"/><circle cx="169.78" cy="236.26" r="1.3"/><circle cx="179.34" cy="236.13" r="1.3"/><circle cx="188.9" cy="236.01" r="1.3"/><circle cx="198.46" cy="235.89" r="1.3"/><circle cx="208.02" cy="235.77" r="1.3"/><circle cx="217.58" cy="235.64" r="1.3"/><circle cx="227.14" cy="235.52" r="1.3"/><circle cx="236.7" cy="235.4" r="1.3"/></g>
<path d="M182.4 212.6H195.5" stroke="#a90a32" stroke-width="1.6" opacity="1"/>
<circle cx="188.95" cy="212.6" r="1.5" fill="#a90a32"/>
<text x="198.8" y="215.1" font-size="9" fill="#231f20" stroke="#231f20" stroke-width="0.2" textLength="40.5" lengthAdjust="spacingAndGlyphs">OxLDL+CVX</text>
<path d="M182.4 221.2H195.5" stroke="#24488a" stroke-width="1.6" opacity="1"/>
<circle cx="188.95" cy="221.2" r="1.5" fill="#24488a"/>
<text x="198.8" y="223.7" font-size="9" fill="#231f20" stroke="#231f20" stroke-width="0.2" textLength="13.6" lengthAdjust="spacingAndGlyphs">CVX</text>
<g stroke="#231f20" stroke-width="1.5" fill="none">
<path d="M303.2 197.1V307.5H498.75"/>
<path d="M300 307.5H303.2"/>
<path d="M300 280.5H303.2"/>
<path d="M300 253.5H303.2"/>
<path d="M300 226.6H303.2"/>
<path d="M300 199.6H303.2"/>
<path d="M303.2 307.5V310.9"/>
<path d="M327.26 307.5V310.9"/>
<path d="M351.32 307.5V310.9"/>
<path d="M375.39 307.5V310.9"/>
<path d="M399.45 307.5V310.9"/>
<path d="M423.51 307.5V310.9"/>
<path d="M447.57 307.5V310.9"/>
<path d="M471.64 307.5V310.9"/>
<path d="M495.7 307.5V310.9"/>
</g>
<g fill="#231f20" stroke="#231f20" stroke-width="0.22">
<text x="296.5" y="310.5" font-size="8.6" text-anchor="end" textLength="14.3" lengthAdjust="spacingAndGlyphs" stroke-width="0.08">0.50</text>
<text x="296.5" y="283.5" font-size="8.6" text-anchor="end" textLength="14.3" lengthAdjust="spacingAndGlyphs" stroke-width="0.08">0.75</text>
<text x="296.5" y="256.5" font-size="8.6" text-anchor="end" textLength="14.3" lengthAdjust="spacingAndGlyphs" stroke-width="0.08">1.00</text>
<text x="296.5" y="229.6" font-size="8.6" text-anchor="end" textLength="14.3" lengthAdjust="spacingAndGlyphs" stroke-width="0.08">1.25</text>
<text x="296.5" y="202.6" font-size="8.6" text-anchor="end" textLength="14.3" lengthAdjust="spacingAndGlyphs" stroke-width="0.08">1.50</text>
<text x="303.2" y="322" font-size="8.6" text-anchor="middle" textLength="10.3" lengthAdjust="spacingAndGlyphs" stroke-width="0.08">0.0</text>
<text x="327.26" y="322" font-size="8.6" text-anchor="middle" textLength="10.3" lengthAdjust="spacingAndGlyphs" stroke-width="0.08">2.5</text>
<text x="351.32" y="322" font-size="8.6" text-anchor="middle" textLength="10.3" lengthAdjust="spacingAndGlyphs" stroke-width="0.08">5.0</text>
<text x="375.39" y="322" font-size="8.6" text-anchor="middle" textLength="10.3" lengthAdjust="spacingAndGlyphs" stroke-width="0.08">7.5</text>
<text x="399.45" y="322" font-size="8.6" text-anchor="middle" textLength="14.8" lengthAdjust="spacingAndGlyphs" stroke-width="0.08">10.0</text>
<text x="423.51" y="322" font-size="8.6" text-anchor="middle" textLength="14.8" lengthAdjust="spacingAndGlyphs" stroke-width="0.08">12.5</text>
<text x="447.57" y="322" font-size="8.6" text-anchor="middle" textLength="14.8" lengthAdjust="spacingAndGlyphs" stroke-width="0.08">15.0</text>
<text x="471.64" y="322" font-size="8.6" text-anchor="middle" textLength="14.8" lengthAdjust="spacingAndGlyphs" stroke-width="0.08">17.5</text>
<text x="495.7" y="322" font-size="8.6" text-anchor="middle" textLength="14.8" lengthAdjust="spacingAndGlyphs" stroke-width="0.08">20.0</text>
<text x="400.85" y="335.9" font-size="10.6" text-anchor="middle" textLength="45.8" lengthAdjust="spacingAndGlyphs">Time (min)</text>
<text transform="translate(273.8 253.6) rotate(-90)" x="0" y="0" font-size="10.2" text-anchor="middle" textLength="138.8" lengthAdjust="spacingAndGlyphs">Fibrin formation OD405 nm (a.u.)</text>
<text x="265.2" y="190.9" font-size="11.8" stroke-width="0.55" textLength="6.9" lengthAdjust="spacingAndGlyphs">D</text>
</g>
<path d="" stroke="#24488a" stroke-width="1.1" fill="none" opacity="0.9"/>
<path d="M303.2 253.4 L312.82 257.7 L322.45 259.1 L332.07 263 L341.7 264.4 L351.32 265.5 L360.95 267.6 L370.57 267 L380.2 255.5 L389.82 250.7 L399.45 250.6 L409.07 250.3 L418.7 250.1 L428.32 249.7 L437.95 249.1 L447.57 248.2 L457.2 248.2 L466.82 248.2 L476.45 247.6 L486.07 247.6 L495.7 247.1" stroke="#24488a" stroke-width="1.45" fill="none" stroke-linejoin="round" opacity="1"/>
<g fill="#24488a"><circle cx="303.2" cy="253.4" r="1.1"/><circle cx="312.82" cy="257.7" r="1.1"/><circle cx="322.45" cy="259.1" r="1.1"/><circle cx="332.07" cy="263" r="1.1"/><circle cx="341.7" cy="264.4" r="1.1"/><circle cx="351.32" cy="265.5" r="1.1"/><circle cx="360.95" cy="267.6" r="1.1"/><circle cx="370.57" cy="267" r="1.1"/><circle cx="380.2" cy="255.5" r="1.1"/><circle cx="389.82" cy="250.7" r="1.1"/><circle cx="399.45" cy="250.6" r="1.1"/><circle cx="409.07" cy="250.3" r="1.1"/><circle cx="418.7" cy="250.1" r="1.1"/><circle cx="428.32" cy="249.7" r="1.1"/><circle cx="437.95" cy="249.1" r="1.1"/><circle cx="447.57" cy="248.2" r="1.1"/><circle cx="457.2" cy="248.2" r="1.1"/><circle cx="466.82" cy="248.2" r="1.1"/><circle cx="476.45" cy="247.6" r="1.1"/><circle cx="486.07" cy="247.6" r="1.1"/><circle cx="495.7" cy="247.1" r="1.1"/></g>
<path d="M312.82 255.4V257.4M311.43 255.4h2.8M311.43 257.4h2.8M322.45 257V260M321.05 257h2.8M321.05 260h2.8M332.07 254.7V260.7M330.68 254.7h2.8M330.68 260.7h2.8M341.7 251.9V260.9M340.3 251.9h2.8M340.3 260.9h2.8M351.32 249.6V259M349.93 249.6h2.8M349.93 259h2.8M360.95 238.9V256.9M359.55 238.9h2.8M359.55 256.9h2.8M370.57 236.5V243.7M369.18 236.5h2.8M369.18 243.7h2.8M380.2 235.3V240.7M378.8 235.3h2.8M378.8 240.7h2.8M389.82 235.1V240.1M388.43 235.1h2.8M388.43 240.1h2.8M399.45 234.9V239.9M398.05 234.9h2.8M398.05 239.9h2.8M409.07 234.9V239.9M407.68 234.9h2.8M407.68 239.9h2.8M418.7 234.5V239.5M417.3 234.5h2.8M417.3 239.5h2.8M428.32 234.1V239.1M426.93 234.1h2.8M426.93 239.1h2.8M437.95 233.8V238.8M436.55 233.8h2.8M436.55 238.8h2.8M447.57 233.6V238.6M446.18 233.6h2.8M446.18 238.6h2.8M457.2 233.6V238.6M455.8 233.6h2.8M455.8 238.6h2.8M466.82 233.4V238.4M465.43 233.4h2.8M465.43 238.4h2.8M476.45 233.2V238.2M475.05 233.2h2.8M475.05 238.2h2.8M486.07 232.9V237.9M484.68 232.9h2.8M484.68 237.9h2.8M495.7 232.7V237.7M494.3 232.7h2.8M494.3 237.7h2.8" stroke="#a90a32" stroke-width="1.1" fill="none" opacity="0.9"/>
<path d="M303.2 253.4 L312.82 256.4 L322.45 258.5 L332.07 257.7 L341.7 256.4 L351.32 254.3 L360.95 247.9 L370.57 240.1 L380.2 238 L389.82 237.6 L399.45 237.4 L409.07 237.4 L418.7 237 L428.32 236.6 L437.95 236.3 L447.57 236.1 L457.2 236.1 L466.82 235.9 L476.45 235.7 L486.07 235.4 L495.7 235.2" stroke="#a90a32" stroke-width="1.45" fill="none" stroke-linejoin="round" opacity="1"/>
<g fill="#a90a32"><circle cx="303.2" cy="253.4" r="1.3"/><circle cx="312.82" cy="256.4" r="1.3"/><circle cx="322.45" cy="258.5" r="1.3"/><circle cx="332.07" cy="257.7" r="1.3"/><circle cx="341.7" cy="256.4" r="1.3"/><circle cx="351.32" cy="254.3" r="1.3"/><circle cx="360.95" cy="247.9" r="1.3"/><circle cx="370.57" cy="240.1" r="1.3"/><circle cx="380.2" cy="238" r="1.3"/><circle cx="389.82" cy="237.6" r="1.3"/><circle cx="399.45" cy="237.4" r="1.3"/><circle cx="409.07" cy="237.4" r="1.3"/><circle cx="418.7" cy="237" r="1.3"/><circle cx="428.32" cy="236.6" r="1.3"/><circle cx="437.95" cy="236.3" r="1.3"/><circle cx="447.57" cy="236.1" r="1.3"/><circle cx="457.2" cy="236.1" r="1.3"/><circle cx="466.82" cy="235.9" r="1.3"/><circle cx="476.45" cy="235.7" r="1.3"/><circle cx="486.07" cy="235.4" r="1.3"/><circle cx="495.7" cy="235.2" r="1.3"/></g>
<path d="M312.82 256V258M311.43 256h2.8M311.43 258h2.8M322.45 257.6V260.6M321.05 257.6h2.8M321.05 260.6h2.8M332.07 260.3V264.3M330.68 260.3h2.8M330.68 264.3h2.8M341.7 262V266M340.3 262h2.8M340.3 266h2.8M351.32 262.3V267.3M349.93 262.3h2.8M349.93 267.3h2.8M360.95 262.1V267.5M359.55 262.1h2.8M359.55 267.5h2.8M370.57 258.2V265.6M369.18 258.2h2.8M369.18 265.6h2.8M380.2 252.7V263.3M378.8 252.7h2.8M378.8 263.3h2.8M389.82 241.1V250.5M388.43 241.1h2.8M388.43 250.5h2.8M399.45 239V246.6M398.05 239h2.8M398.05 246.6h2.8M409.07 237.8V245.8M407.68 237.8h2.8M407.68 245.8h2.8M418.7 237.4V245.4M417.3 237.4h2.8M417.3 245.4h2.8M428.32 237.2V245.2M426.93 237.2h2.8M426.93 245.2h2.8M437.95 236.8V244.8M436.55 236.8h2.8M436.55 244.8h2.8M447.57 236.4V244.4M446.18 236.4h2.8M446.18 244.4h2.8M457.2 236V244M455.8 236h2.8M455.8 244h2.8M466.82 235.5V243.5M465.43 235.5h2.8M465.43 243.5h2.8M476.45 235.3V243.3M475.05 235.3h2.8M475.05 243.3h2.8M486.07 234.8V242.8M484.68 234.8h2.8M484.68 242.8h2.8M495.7 234.4V242.4M494.3 234.4h2.8M494.3 242.4h2.8" stroke="#62b23e" stroke-width="1.1" fill="none" opacity="0.9"/>
<path d="M303.2 253.4 L312.82 257 L322.45 259.1 L332.07 262.3 L341.7 264 L351.32 264.8 L360.95 264.8 L370.57 261.9 L380.2 258 L389.82 245.8 L399.45 242.8 L409.07 241.8 L418.7 241.4 L428.32 241.2 L437.95 240.8 L447.57 240.4 L457.2 240 L466.82 239.5 L476.45 239.3 L486.07 238.8 L495.7 238.4" stroke="#62b23e" stroke-width="1.45" fill="none" stroke-linejoin="round" opacity="1"/>
<g fill="#62b23e"><circle cx="303.2" cy="253.4" r="1.3"/><circle cx="312.82" cy="257" r="1.3"/><circle cx="322.45" cy="259.1" r="1.3"/><circle cx="332.07" cy="262.3" r="1.3"/><circle cx="341.7" cy="264" r="1.3"/><circle cx="351.32" cy="264.8" r="1.3"/><circle cx="360.95" cy="264.8" r="1.3"/><circle cx="370.57" cy="261.9" r="1.3"/><circle cx="380.2" cy="258" r="1.3"/><circle cx="389.82" cy="245.8" r="1.3"/><circle cx="399.45" cy="242.8" r="1.3"/><circle cx="409.07" cy="241.8" r="1.3"/><circle cx="418.7" cy="241.4" r="1.3"/><circle cx="428.32" cy="241.2" r="1.3"/><circle cx="437.95" cy="240.8" r="1.3"/><circle cx="447.57" cy="240.4" r="1.3"/><circle cx="457.2" cy="240" r="1.3"/><circle cx="466.82" cy="239.5" r="1.3"/><circle cx="476.45" cy="239.3" r="1.3"/><circle cx="486.07" cy="238.8" r="1.3"/><circle cx="495.7" cy="238.4" r="1.3"/></g>
<path d="M309.2 203.9H322.3" stroke="#62b23e" stroke-width="1.6" opacity="1"/>
<circle cx="315.75" cy="203.9" r="1.5" fill="#62b23e"/>
<text x="325.8" y="206.4" font-size="9" fill="#231f20" stroke="#231f20" stroke-width="0.2" textLength="30.2" lengthAdjust="spacingAndGlyphs">IgG+CVX</text>
<path d="M309.2 214.3H322.3" stroke="#a90a32" stroke-width="1.6" opacity="1"/>
<circle cx="315.75" cy="214.3" r="1.5" fill="#a90a32"/>
<text x="325.8" y="216.8" font-size="9" fill="#231f20" stroke="#231f20" stroke-width="0.2" textLength="57.1" lengthAdjust="spacingAndGlyphs">IgG+OxLDL+CVX</text>
<path d="M309.2 224.7H322.3" stroke="#24488a" stroke-width="1.6" opacity="1"/>
<circle cx="315.75" cy="224.7" r="1.5" fill="#24488a"/>
<text x="325.8" y="227.2" font-size="9" fill="#231f20" stroke="#231f20" stroke-width="0.2" textLength="57.7" lengthAdjust="spacingAndGlyphs">FA6+CVX+OxLDL</text>
<g stroke="#231f20" stroke-width="1.5" fill="none">
<path d="M45.7 396.2V507.5H242"/>
<path d="M42.5 507.5H45.7"/>
<path d="M42.5 480.3H45.7"/>
<path d="M42.5 453.3H45.7"/>
<path d="M42.5 426.4H45.7"/>
<path d="M42.5 399.6H45.7"/>
<path d="M45.7 507.5V510.9"/>
<path d="M69.85 507.5V510.9"/>
<path d="M94 507.5V510.9"/>
<path d="M118.15 507.5V510.9"/>
<path d="M142.3 507.5V510.9"/>
<path d="M166.45 507.5V510.9"/>
<path d="M190.6 507.5V510.9"/>
<path d="M214.75 507.5V510.9"/>
<path d="M238.9 507.5V510.9"/>
</g>
<g fill="#231f20" stroke="#231f20" stroke-width="0.22">
<text x="39" y="510.5" font-size="8.6" text-anchor="end" textLength="14.3" lengthAdjust="spacingAndGlyphs" stroke-width="0.08">0.50</text>
<text x="39" y="483.3" font-size="8.6" text-anchor="end" textLength="14.3" lengthAdjust="spacingAndGlyphs" stroke-width="0.08">0.75</text>
<text x="39" y="456.3" font-size="8.6" text-anchor="end" textLength="14.3" lengthAdjust="spacingAndGlyphs" stroke-width="0.08">1.00</text>
<text x="39" y="429.4" font-size="8.6" text-anchor="end" textLength="14.3" lengthAdjust="spacingAndGlyphs" stroke-width="0.08">1.25</text>
<text x="39" y="402.6" font-size="8.6" text-anchor="end" textLength="14.3" lengthAdjust="spacingAndGlyphs" stroke-width="0.08">1.50</text>
<text x="45.7" y="522" font-size="8.6" text-anchor="middle" textLength="10.3" lengthAdjust="spacingAndGlyphs" stroke-width="0.08">0.0</text>
<text x="69.85" y="522" font-size="8.6" text-anchor="middle" textLength="10.3" lengthAdjust="spacingAndGlyphs" stroke-width="0.08">2.5</text>
<text x="94" y="522" font-size="8.6" text-anchor="middle" textLength="10.3" lengthAdjust="spacingAndGlyphs" stroke-width="0.08">5.0</text>
<text x="118.15" y="522" font-size="8.6" text-anchor="middle" textLength="10.3" lengthAdjust="spacingAndGlyphs" stroke-width="0.08">7.5</text>
<text x="142.3" y="522" font-size="8.6" text-anchor="middle" textLength="14.8" lengthAdjust="spacingAndGlyphs" stroke-width="0.08">10.0</text>
<text x="166.45" y="522" font-size="8.6" text-anchor="middle" textLength="14.8" lengthAdjust="spacingAndGlyphs" stroke-width="0.08">12.5</text>
<text x="190.6" y="522" font-size="8.6" text-anchor="middle" textLength="14.8" lengthAdjust="spacingAndGlyphs" stroke-width="0.08">15.0</text>
<text x="214.75" y="522" font-size="8.6" text-anchor="middle" textLength="14.8" lengthAdjust="spacingAndGlyphs" stroke-width="0.08">17.5</text>
<text x="238.9" y="522" font-size="8.6" text-anchor="middle" textLength="14.8" lengthAdjust="spacingAndGlyphs" stroke-width="0.08">20.0</text>
<text x="144.1" y="535.9" font-size="10.6" text-anchor="middle" textLength="45.8" lengthAdjust="spacingAndGlyphs">Time (min)</text>
<text transform="translate(16.5 452.15) rotate(-90)" x="0" y="0" font-size="10.2" text-anchor="middle" textLength="140.3" lengthAdjust="spacingAndGlyphs">Fibrin formation OD405 nm (a.u.)</text>
<text x="7.5" y="365.1" font-size="11.8" stroke-width="0.55" textLength="5.8" lengthAdjust="spacingAndGlyphs">E</text>
</g>
<path d="M55.36 454.3V458.3M53.96 454.3h2.8M53.96 458.3h2.8M65.02 458V463.4M63.62 458h2.8M63.62 463.4h2.8M74.68 460.05V467.55M73.28 460.05h2.8M73.28 467.55h2.8M84.34 454V460M82.94 454h2.8M82.94 460h2.8M94 443.8V457.8M92.6 443.8h2.8M92.6 457.8h2.8M103.66 441.9V456.5M102.26 441.9h2.8M102.26 456.5h2.8M113.32 443.4V458M111.92 443.4h2.8M111.92 458h2.8M122.98 443.4V458M121.58 443.4h2.8M121.58 458h2.8M132.64 443.4V458M131.24 443.4h2.8M131.24 458h2.8M142.3 443.4V458M140.9 443.4h2.8M140.9 458h2.8M151.96 443.4V458M150.56 443.4h2.8M150.56 458h2.8M161.62 443.4V458M160.22 443.4h2.8M160.22 458h2.8M171.28 443.4V458M169.88 443.4h2.8M169.88 458h2.8M180.94 443.4V458M179.54 443.4h2.8M179.54 458h2.8M190.6 443.4V458M189.2 443.4h2.8M189.2 458h2.8M200.26 443.4V458M198.86 443.4h2.8M198.86 458h2.8M209.92 443.4V458M208.52 443.4h2.8M208.52 458h2.8M219.58 443.4V458M218.18 443.4h2.8M218.18 458h2.8M229.24 443.4V458M227.84 443.4h2.8M227.84 458h2.8M238.9 443.4V458M237.5 443.4h2.8M237.5 458h2.8" stroke="#5c2d84" stroke-width="1.1" fill="none" opacity="0.9"/>
<path d="M45.7 453.4 L55.36 456.3 L65.02 460.7 L74.68 463.8 L84.34 457 L94 450.8 L103.66 449.2 L113.32 450.7 L122.98 450.7 L132.64 450.7 L142.3 450.7 L151.96 450.7 L161.62 450.7 L171.28 450.7 L180.94 450.7 L190.6 450.7 L200.26 450.7 L209.92 450.7 L219.58 450.7 L229.24 450.7 L238.9 450.7" stroke="#5c2d84" stroke-width="1.45" fill="none" stroke-linejoin="round" opacity="1"/>
<g fill="#5c2d84"><circle cx="45.7" cy="453.4" r="1.3"/><circle cx="55.36" cy="456.3" r="1.3"/><circle cx="65.02" cy="460.7" r="1.3"/><circle cx="74.68" cy="463.8" r="1.3"/><circle cx="84.34" cy="457" r="1.3"/><circle cx="94" cy="450.8" r="1.3"/><circle cx="103.66" cy="449.2" r="1.3"/><circle cx="113.32" cy="450.7" r="1.3"/><circle cx="122.98" cy="450.7" r="1.3"/><circle cx="132.64" cy="450.7" r="1.3"/><circle cx="142.3" cy="450.7" r="1.3"/><circle cx="151.96" cy="450.7" r="1.3"/><circle cx="161.62" cy="450.7" r="1.3"/><circle cx="171.28" cy="450.7" r="1.3"/><circle cx="180.94" cy="450.7" r="1.3"/><circle cx="190.6" cy="450.7" r="1.3"/><circle cx="200.26" cy="450.7" r="1.3"/><circle cx="209.92" cy="450.7" r="1.3"/><circle cx="219.58" cy="450.7" r="1.3"/><circle cx="229.24" cy="450.7" r="1.3"/><circle cx="238.9" cy="450.7" r="1.3"/></g>
<path d="M55.36 451.4V457.4M53.96 451.4h2.8M53.96 457.4h2.8M65.02 446.9V458.1M63.62 446.9h2.8M63.62 458.1h2.8M74.68 449.3V455.3M73.28 449.3h2.8M73.28 455.3h2.8M84.34 455.3V463.3M82.94 455.3h2.8M82.94 463.3h2.8M94 442.8V449.8M92.6 442.8h2.8M92.6 449.8h2.8M103.66 443.4V448.8M102.26 443.4h2.8M102.26 448.8h2.8M113.32 443.4V448.8M111.92 443.4h2.8M111.92 448.8h2.8M122.98 443.4V448.8M121.58 443.4h2.8M121.58 448.8h2.8M132.64 443.4V448.8M131.24 443.4h2.8M131.24 448.8h2.8M142.3 443.4V448.8M140.9 443.4h2.8M140.9 448.8h2.8M151.96 443.4V448.8M150.56 443.4h2.8M150.56 448.8h2.8M161.62 443.4V448.8M160.22 443.4h2.8M160.22 448.8h2.8M171.28 443.4V448.8M169.88 443.4h2.8M169.88 448.8h2.8M180.94 443.4V448.8M179.54 443.4h2.8M179.54 448.8h2.8M190.6 443.4V448.8M189.2 443.4h2.8M189.2 448.8h2.8M200.26 443.4V448.8M198.86 443.4h2.8M198.86 448.8h2.8M209.92 443.4V448.8M208.52 443.4h2.8M208.52 448.8h2.8M219.58 443.4V448.8M218.18 443.4h2.8M218.18 448.8h2.8M229.24 443.4V448.8M227.84 443.4h2.8M227.84 448.8h2.8M238.9 443.4V448.8M237.5 443.4h2.8M237.5 448.8h2.8" stroke="#62b23e" stroke-width="1.1" fill="none" opacity="0.9"/>
<path d="M45.7 453.4 L55.36 454.4 L65.02 452.5 L74.68 452.3 L84.34 459.3 L94 446.3 L103.66 446.1 L113.32 446.1 L122.98 446.1 L132.64 446.1 L142.3 446.1 L151.96 446.1 L161.62 446.1 L171.28 446.1 L180.94 446.1 L190.6 446.1 L200.26 446.1 L209.92 446.1 L219.58 446.1 L229.24 446.1 L238.9 446.1" stroke="#62b23e" stroke-width="1.45" fill="none" stroke-linejoin="round" opacity="1"/>
<g fill="#62b23e"><circle cx="45.7" cy="453.4" r="1.3"/><circle cx="55.36" cy="454.4" r="1.3"/><circle cx="65.02" cy="452.5" r="1.3"/><circle cx="74.68" cy="452.3" r="1.3"/><circle cx="84.34" cy="459.3" r="1.3"/><circle cx="94" cy="446.3" r="1.3"/><circle cx="103.66" cy="446.1" r="1.3"/><circle cx="113.32" cy="446.1" r="1.3"/><circle cx="122.98" cy="446.1" r="1.3"/><circle cx="132.64" cy="446.1" r="1.3"/><circle cx="142.3" cy="446.1" r="1.3"/><circle cx="151.96" cy="446.1" r="1.3"/><circle cx="161.62" cy="446.1" r="1.3"/><circle cx="171.28" cy="446.1" r="1.3"/><circle cx="180.94" cy="446.1" r="1.3"/><circle cx="190.6" cy="446.1" r="1.3"/><circle cx="200.26" cy="446.1" r="1.3"/><circle cx="209.92" cy="446.1" r="1.3"/><circle cx="219.58" cy="446.1" r="1.3"/><circle cx="229.24" cy="446.1" r="1.3"/><circle cx="238.9" cy="446.1" r="1.3"/></g>
<path d="M55.36 453V457M53.96 453h2.8M53.96 457h2.8M65.02 454.9V458.9M63.62 454.9h2.8M63.62 458.9h2.8M74.68 456V460M73.28 456h2.8M73.28 460h2.8M84.34 453V459M82.94 453h2.8M82.94 459h2.8M94 446.9V455.7M92.6 446.9h2.8M92.6 455.7h2.8M103.66 446.3V452.3M102.26 446.3h2.8M102.26 452.3h2.8M113.32 447.3V453.3M111.92 447.3h2.8M111.92 453.3h2.8M122.98 447.3V453.3M121.58 447.3h2.8M121.58 453.3h2.8M132.64 447.3V453.3M131.24 447.3h2.8M131.24 453.3h2.8M142.3 447.3V453.3M140.9 447.3h2.8M140.9 453.3h2.8M151.96 447.3V453.3M150.56 447.3h2.8M150.56 453.3h2.8M161.62 447.3V453.3M160.22 447.3h2.8M160.22 453.3h2.8M171.28 447.3V453.3M169.88 447.3h2.8M169.88 453.3h2.8M180.94 447.3V453.3M179.54 447.3h2.8M179.54 453.3h2.8M190.6 447.3V453.3M189.2 447.3h2.8M189.2 453.3h2.8M200.26 447.3V453.3M198.86 447.3h2.8M198.86 453.3h2.8M209.92 447.3V453.3M208.52 447.3h2.8M208.52 453.3h2.8M219.58 447.3V453.3M218.18 447.3h2.8M218.18 453.3h2.8M229.24 447.3V453.3M227.84 447.3h2.8M227.84 453.3h2.8M238.9 447.3V453.3M237.5 447.3h2.8M237.5 453.3h2.8" stroke="#24488a" stroke-width="1.1" fill="none" opacity="0.9"/>
<path d="M45.7 453.4 L55.36 455 L65.02 456.9 L74.68 458 L84.34 456 L94 451.3 L103.66 449.3 L113.32 450.3 L122.98 450.3 L132.64 450.3 L142.3 450.3 L151.96 450.3 L161.62 450.3 L171.28 450.3 L180.94 450.3 L190.6 450.3 L200.26 450.3 L209.92 450.3 L219.58 450.3 L229.24 450.3 L238.9 450.3" stroke="#24488a" stroke-width="1.6" fill="none" stroke-linejoin="round" opacity="1"/>
<g fill="#24488a"><circle cx="45.7" cy="453.4" r="1.5"/><circle cx="55.36" cy="455" r="1.5"/><circle cx="65.02" cy="456.9" r="1.5"/><circle cx="74.68" cy="458" r="1.5"/><circle cx="84.34" cy="456" r="1.5"/><circle cx="94" cy="451.3" r="1.5"/><circle cx="103.66" cy="449.3" r="1.5"/><circle cx="113.32" cy="450.3" r="1.5"/><circle cx="122.98" cy="450.3" r="1.5"/><circle cx="132.64" cy="450.3" r="1.5"/><circle cx="142.3" cy="450.3" r="1.5"/><circle cx="151.96" cy="450.3" r="1.5"/><circle cx="161.62" cy="450.3" r="1.5"/><circle cx="171.28" cy="450.3" r="1.5"/><circle cx="180.94" cy="450.3" r="1.5"/><circle cx="190.6" cy="450.3" r="1.5"/><circle cx="200.26" cy="450.3" r="1.5"/><circle cx="209.92" cy="450.3" r="1.5"/><circle cx="219.58" cy="450.3" r="1.5"/><circle cx="229.24" cy="450.3" r="1.5"/><circle cx="238.9" cy="450.3" r="1.5"/></g>
<path d="M55.36 449.1V457.1M53.96 449.1h2.8M53.96 457.1h2.8M65.02 447.8V456.8M63.62 447.8h2.8M63.62 456.8h2.8M74.68 446V456M73.28 446h2.8M73.28 456h2.8M84.34 427.4V433.8M82.94 427.4h2.8M82.94 433.8h2.8M94 426.4V433.8M92.6 426.4h2.8M92.6 433.8h2.8M103.66 426.14V433.86M102.26 426.14h2.8M102.26 433.86h2.8M113.32 425.68V433.72M111.92 425.68h2.8M111.92 433.72h2.8M122.98 425.12V433.48M121.58 425.12h2.8M121.58 433.48h2.8M132.64 424.56V433.24M131.24 424.56h2.8M131.24 433.24h2.8M142.3 424V433M140.9 424h2.8M140.9 433h2.8M151.96 423.91V432.93M150.56 423.91h2.8M150.56 432.93h2.8M161.62 423.82V432.86M160.22 423.82h2.8M160.22 432.86h2.8M171.28 423.73V432.79M169.88 423.73h2.8M169.88 432.79h2.8M180.94 423.64V432.72M179.54 423.64h2.8M179.54 432.72h2.8M190.6 423.55V432.65M189.2 423.55h2.8M189.2 432.65h2.8M200.26 423.46V432.58M198.86 423.46h2.8M198.86 432.58h2.8M209.92 423.37V432.51M208.52 423.37h2.8M208.52 432.51h2.8M219.58 423.28V432.44M218.18 423.28h2.8M218.18 432.44h2.8M229.24 423.19V432.37M227.84 423.19h2.8M227.84 432.37h2.8M238.9 423.1V432.3M237.5 423.1h2.8M237.5 432.3h2.8" stroke="#a90a32" stroke-width="1.1" fill="none" opacity="0.9"/>
<path d="M45.7 453.4 L55.36 453.1 L65.02 452.3 L74.68 451 L84.34 430.6 L94 430.1 L103.66 430 L113.32 429.7 L122.98 429.3 L132.64 428.9 L142.3 428.5 L151.96 428.42 L161.62 428.34 L171.28 428.26 L180.94 428.18 L190.6 428.1 L200.26 428.02 L209.92 427.94 L219.58 427.86 L229.24 427.78 L238.9 427.7" stroke="#a90a32" stroke-width="1.45" fill="none" stroke-linejoin="round" opacity="1"/>
<g fill="#a90a32"><circle cx="45.7" cy="453.4" r="1.3"/><circle cx="55.36" cy="453.1" r="1.3"/><circle cx="65.02" cy="452.3" r="1.3"/><circle cx="74.68" cy="451" r="1.3"/><circle cx="84.34" cy="430.6" r="1.3"/><circle cx="94" cy="430.1" r="1.3"/><circle cx="103.66" cy="430" r="1.3"/><circle cx="113.32" cy="429.7" r="1.3"/><circle cx="122.98" cy="429.3" r="1.3"/><circle cx="132.64" cy="428.9" r="1.3"/><circle cx="142.3" cy="428.5" r="1.3"/><circle cx="151.96" cy="428.42" r="1.3"/><circle cx="161.62" cy="428.34" r="1.3"/><circle cx="171.28" cy="428.26" r="1.3"/><circle cx="180.94" cy="428.18" r="1.3"/><circle cx="190.6" cy="428.1" r="1.3"/><circle cx="200.26" cy="428.02" r="1.3"/><circle cx="209.92" cy="427.94" r="1.3"/><circle cx="219.58" cy="427.86" r="1.3"/><circle cx="229.24" cy="427.78" r="1.3"/><circle cx="238.9" cy="427.7" r="1.3"/></g>
<path d="M126 369.5H138.3" stroke="#62b23e" stroke-width="1.6" opacity="1"/>
<circle cx="132.15" cy="369.5" r="1.5" fill="#62b23e"/>
<text x="142.1" y="372" font-size="9" fill="#231f20" stroke="#231f20" stroke-width="0.2" textLength="39.5" lengthAdjust="spacingAndGlyphs">DMSO+CVX</text>
<path d="M126 380.1H138.3" stroke="#a90a32" stroke-width="1.6" opacity="1"/>
<circle cx="132.15" cy="380.1" r="1.5" fill="#a90a32"/>
<text x="142.1" y="382.6" font-size="9" fill="#231f20" stroke="#231f20" stroke-width="0.2" textLength="66" lengthAdjust="spacingAndGlyphs">DMSO+OxLDL+CVX</text>
<path d="M126 390.3H138.3" stroke="#24488a" stroke-width="1.6" opacity="1"/>
<circle cx="132.15" cy="390.3" r="1.5" fill="#24488a"/>
<text x="142.1" y="392.8" font-size="9" fill="#231f20" stroke="#231f20" stroke-width="0.2" textLength="76.6" lengthAdjust="spacingAndGlyphs">BIX02188+OxLDL+CVX</text>
<path d="M126 400.3H138.3" stroke="#5c2d84" stroke-width="1.6" opacity="1"/>
<circle cx="132.15" cy="400.3" r="1.5" fill="#5c2d84"/>
<text x="142.1" y="402.8" font-size="9" fill="#231f20" stroke="#231f20" stroke-width="0.2" textLength="76.1" lengthAdjust="spacingAndGlyphs">XMD8-92+OxLDL+CVX</text>
<g stroke="#231f20" stroke-width="1.5" fill="none">
<path d="M303 395.8V507.5H501.5"/>
<path d="M299.8 507.5H303"/>
<path d="M299.8 485.6H303"/>
<path d="M299.8 463.8H303"/>
<path d="M299.8 442H303"/>
<path d="M299.8 420.1H303"/>
<path d="M299.8 398.2H303"/>
<path d="M303 507.5V510.9"/>
<path d="M327.4 507.5V510.9"/>
<path d="M351.8 507.5V510.9"/>
<path d="M376.2 507.5V510.9"/>
<path d="M400.6 507.5V510.9"/>
<path d="M425 507.5V510.9"/>
<path d="M449.4 507.5V510.9"/>
<path d="M473.8 507.5V510.9"/>
<path d="M498.2 507.5V510.9"/>
</g>
<g fill="#231f20" stroke="#231f20" stroke-width="0.22">
<text x="296.3" y="510.5" font-size="8.6" text-anchor="end" textLength="14.3" lengthAdjust="spacingAndGlyphs" stroke-width="0.08">0.50</text>
<text x="296.3" y="488.6" font-size="8.6" text-anchor="end" textLength="14.3" lengthAdjust="spacingAndGlyphs" stroke-width="0.08">0.75</text>
<text x="296.3" y="466.8" font-size="8.6" text-anchor="end" textLength="14.3" lengthAdjust="spacingAndGlyphs" stroke-width="0.08">1.00</text>
<text x="296.3" y="445" font-size="8.6" text-anchor="end" textLength="14.3" lengthAdjust="spacingAndGlyphs" stroke-width="0.08">1.25</text>
<text x="296.3" y="423.1" font-size="8.6" text-anchor="end" textLength="14.3" lengthAdjust="spacingAndGlyphs" stroke-width="0.08">1.50</text>
<text x="296.3" y="401.2" font-size="8.6" text-anchor="end" textLength="14.3" lengthAdjust="spacingAndGlyphs" stroke-width="0.08">1.75</text>
<text x="303" y="522" font-size="8.6" text-anchor="middle" textLength="10.3" lengthAdjust="spacingAndGlyphs" stroke-width="0.08">0.0</text>
<text x="327.4" y="522" font-size="8.6" text-anchor="middle" textLength="10.3" lengthAdjust="spacingAndGlyphs" stroke-width="0.08">2.5</text>
<text x="351.8" y="522" font-size="8.6" text-anchor="middle" textLength="10.3" lengthAdjust="spacingAndGlyphs" stroke-width="0.08">5.0</text>
<text x="376.2" y="522" font-size="8.6" text-anchor="middle" textLength="10.3" lengthAdjust="spacingAndGlyphs" stroke-width="0.08">7.5</text>
<text x="400.6" y="522" font-size="8.6" text-anchor="middle" textLength="14.8" lengthAdjust="spacingAndGlyphs" stroke-width="0.08">10.0</text>
<text x="425" y="522" font-size="8.6" text-anchor="middle" textLength="14.8" lengthAdjust="spacingAndGlyphs" stroke-width="0.08">12.5</text>
<text x="449.4" y="522" font-size="8.6" text-anchor="middle" textLength="14.8" lengthAdjust="spacingAndGlyphs" stroke-width="0.08">15.0</text>
<text x="473.8" y="522" font-size="8.6" text-anchor="middle" textLength="14.8" lengthAdjust="spacingAndGlyphs" stroke-width="0.08">17.5</text>
<text x="498.2" y="522" font-size="8.6" text-anchor="middle" textLength="14.8" lengthAdjust="spacingAndGlyphs" stroke-width="0.08">20.0</text>
<text x="402.1" y="535.9" font-size="10.6" text-anchor="middle" textLength="45.8" lengthAdjust="spacingAndGlyphs">Time (min)</text>
<text transform="translate(273.8 454.73) rotate(-90)" x="0" y="0" font-size="10.2" text-anchor="middle" textLength="140.05" lengthAdjust="spacingAndGlyphs">Fibrin formation OD405 nm (a.u.)</text>
<text x="265" y="364.9" font-size="11.8" stroke-width="0.55" textLength="5.6" lengthAdjust="spacingAndGlyphs">F</text>
</g>
<path d="M312.76 460.7V465.7M311.36 460.7h2.8M311.36 465.7h2.8M322.52 458.25V464.75M321.12 458.25h2.8M321.12 464.75h2.8M332.28 461V469M330.88 461h2.8M330.88 469h2.8M342.04 463.73V472.27M340.64 463.73h2.8M340.64 472.27h2.8M351.8 458.47V467.53M350.4 458.47h2.8M350.4 467.53h2.8M361.56 457.2V466.8M360.16 457.2h2.8M360.16 466.8h2.8M371.32 457.7V467.3M369.92 457.7h2.8M369.92 467.3h2.8M381.08 457.7V467.3M379.68 457.7h2.8M379.68 467.3h2.8M390.84 457.7V467.3M389.44 457.7h2.8M389.44 467.3h2.8M400.6 457.7V467.3M399.2 457.7h2.8M399.2 467.3h2.8M410.36 457.7V467.3M408.96 457.7h2.8M408.96 467.3h2.8M420.12 457.7V467.3M418.72 457.7h2.8M418.72 467.3h2.8M429.88 457.7V467.3M428.48 457.7h2.8M428.48 467.3h2.8M439.64 457.7V467.3M438.24 457.7h2.8M438.24 467.3h2.8M449.4 457.7V467.3M448 457.7h2.8M448 467.3h2.8M459.16 457.7V467.3M457.76 457.7h2.8M457.76 467.3h2.8M468.92 457.7V467.3M467.52 457.7h2.8M467.52 467.3h2.8M478.68 457.7V467.3M477.28 457.7h2.8M477.28 467.3h2.8M488.44 457.7V467.3M487.04 457.7h2.8M487.04 467.3h2.8M498.2 457.7V467.3M496.8 457.7h2.8M496.8 467.3h2.8" stroke="#62b23e" stroke-width="1.1" fill="none" opacity="0.9"/>
<path d="M303 463.8C304.63 463.7 309.51 463.58 312.76 463.2C316.01 462.82 319.27 461.2 322.52 461.5C325.77 461.8 329.03 463.92 332.28 465C335.53 466.08 338.79 468.33 342.04 468C345.29 467.67 348.55 464 351.8 463C355.05 462 358.31 462.08 361.56 462C364.81 461.92 368.07 462.42 371.32 462.5C374.57 462.58 377.83 462.5 381.08 462.5C384.33 462.5 387.59 462.5 390.84 462.5C394.09 462.5 397.35 462.5 400.6 462.5C403.85 462.5 407.11 462.5 410.36 462.5C413.61 462.5 416.87 462.5 420.12 462.5C423.37 462.5 426.63 462.5 429.88 462.5C433.13 462.5 436.39 462.5 439.64 462.5C442.89 462.5 446.15 462.5 449.4 462.5C452.65 462.5 455.91 462.5 459.16 462.5C462.41 462.5 465.67 462.5 468.92 462.5C472.17 462.5 475.43 462.5 478.68 462.5C481.93 462.5 485.19 462.5 488.44 462.5C491.69 462.5 496.57 462.5 498.2 462.5" stroke="#62b23e" stroke-width="1.3" fill="none" stroke-dasharray="2.4 1" stroke-dashoffset="0" stroke-linejoin="round" opacity="0.75"/>
<g fill="#62b23e"><circle cx="303" cy="463.8" r="1"/><circle cx="312.76" cy="463.2" r="1"/><circle cx="322.52" cy="461.5" r="1"/><circle cx="332.28" cy="465" r="1"/><circle cx="342.04" cy="468" r="1"/><circle cx="351.8" cy="463" r="1"/><circle cx="361.56" cy="462" r="1"/><circle cx="371.32" cy="462.5" r="1"/><circle cx="381.08" cy="462.5" r="1"/><circle cx="390.84" cy="462.5" r="1"/><circle cx="400.6" cy="462.5" r="1"/><circle cx="410.36" cy="462.5" r="1"/><circle cx="420.12" cy="462.5" r="1"/><circle cx="429.88" cy="462.5" r="1"/><circle cx="439.64" cy="462.5" r="1"/><circle cx="449.4" cy="462.5" r="1"/><circle cx="459.16" cy="462.5" r="1"/><circle cx="468.92" cy="462.5" r="1"/><circle cx="478.68" cy="462.5" r="1"/><circle cx="488.44" cy="462.5" r="1"/><circle cx="498.2" cy="462.5" r="1"/></g>
<path d="M312.76 461.2V467.2M311.36 461.2h2.8M311.36 467.2h2.8M322.52 461.5V467.5M321.12 461.5h2.8M321.12 467.5h2.8M332.28 463.7V475.7M330.88 463.7h2.8M330.88 475.7h2.8M342.04 466.2V474.2M340.64 466.2h2.8M340.64 474.2h2.8M351.8 459.9V468.5M350.4 459.9h2.8M350.4 468.5h2.8M361.56 459V469M360.16 459h2.8M360.16 469h2.8M371.32 459.5V469.5M369.92 459.5h2.8M369.92 469.5h2.8M381.08 459.52V469.52M379.68 459.52h2.8M379.68 469.52h2.8M390.84 459.53V469.53M389.44 459.53h2.8M389.44 469.53h2.8M400.6 459.55V469.55M399.2 459.55h2.8M399.2 469.55h2.8M410.36 459.56V469.56M408.96 459.56h2.8M408.96 469.56h2.8M420.12 459.58V469.58M418.72 459.58h2.8M418.72 469.58h2.8M429.88 459.59V469.59M428.48 459.59h2.8M428.48 469.59h2.8M439.64 459.61V469.61M438.24 459.61h2.8M438.24 469.61h2.8M449.4 459.62V469.62M448 459.62h2.8M448 469.62h2.8M459.16 459.64V469.64M457.76 459.64h2.8M457.76 469.64h2.8M468.92 459.65V469.65M467.52 459.65h2.8M467.52 469.65h2.8M478.68 459.67V469.67M477.28 459.67h2.8M477.28 469.67h2.8M488.44 459.68V469.68M487.04 459.68h2.8M487.04 469.68h2.8M498.2 459.7V469.7M496.8 459.7h2.8M496.8 469.7h2.8" stroke="#62b23e" stroke-width="1.1" fill="none" opacity="0.9"/>
<path d="M303 463.8C304.63 463.87 309.51 464.08 312.76 464.2C316.01 464.32 319.27 463.58 322.52 464.5C325.77 465.42 329.03 468.75 332.28 469.7C335.53 470.65 338.79 471.12 342.04 470.2C345.29 469.28 348.55 465.23 351.8 464.2C355.05 463.17 358.31 463.95 361.56 464C364.81 464.05 368.07 464.41 371.32 464.5C374.57 464.59 377.83 464.51 381.08 464.52C384.33 464.52 387.59 464.53 390.84 464.53C394.09 464.54 397.35 464.54 400.6 464.55C403.85 464.55 407.11 464.56 410.36 464.56C413.61 464.57 416.87 464.57 420.12 464.58C423.37 464.58 426.63 464.59 429.88 464.59C433.13 464.6 436.39 464.6 439.64 464.61C442.89 464.61 446.15 464.62 449.4 464.62C452.65 464.63 455.91 464.63 459.16 464.64C462.41 464.64 465.67 464.65 468.92 464.65C472.17 464.66 475.43 464.66 478.68 464.67C481.93 464.67 485.19 464.68 488.44 464.68C491.69 464.69 496.57 464.7 498.2 464.7" stroke="#62b23e" stroke-width="1.45" fill="none" stroke-linejoin="round" opacity="1"/>
<g fill="#62b23e"><circle cx="303" cy="463.8" r="1.3"/><circle cx="312.76" cy="464.2" r="1.3"/><circle cx="322.52" cy="464.5" r="1.3"/><circle cx="332.28" cy="469.7" r="1.3"/><circle cx="342.04" cy="470.2" r="1.3"/><circle cx="351.8" cy="464.2" r="1.3"/><circle cx="361.56" cy="464" r="1.3"/><circle cx="371.32" cy="464.5" r="1.3"/><circle cx="381.08" cy="464.52" r="1.3"/><circle cx="390.84" cy="464.53" r="1.3"/><circle cx="400.6" cy="464.55" r="1.3"/><circle cx="410.36" cy="464.56" r="1.3"/><circle cx="420.12" cy="464.58" r="1.3"/><circle cx="429.88" cy="464.59" r="1.3"/><circle cx="439.64" cy="464.61" r="1.3"/><circle cx="449.4" cy="464.62" r="1.3"/><circle cx="459.16" cy="464.64" r="1.3"/><circle cx="468.92" cy="464.65" r="1.3"/><circle cx="478.68" cy="464.67" r="1.3"/><circle cx="488.44" cy="464.68" r="1.3"/><circle cx="498.2" cy="464.7" r="1.3"/></g>
<path d="M312.76 465.2V469.2M311.36 465.2h2.8M311.36 469.2h2.8M322.52 465.7V471.7M321.12 465.7h2.8M321.12 471.7h2.8M332.28 466.2V473.2M330.88 466.2h2.8M330.88 473.2h2.8M342.04 456.5V471.3M340.64 456.5h2.8M340.64 471.3h2.8M351.8 453.6V462.8M350.4 453.6h2.8M350.4 462.8h2.8M361.56 452.5V459.3M360.16 452.5h2.8M360.16 459.3h2.8M371.32 451.91V458.69M369.92 451.91h2.8M369.92 458.69h2.8M381.08 451.61V458.39M379.68 451.61h2.8M379.68 458.39h2.8M390.84 451.57V458.33M389.44 451.57h2.8M389.44 458.33h2.8M400.6 451.53V458.27M399.2 451.53h2.8M399.2 458.27h2.8M410.36 451.43V458.15M408.96 451.43h2.8M408.96 458.15h2.8M420.12 451.32V458.04M418.72 451.32h2.8M418.72 458.04h2.8M429.88 451.22V457.92M428.48 451.22h2.8M428.48 457.92h2.8M439.64 451.12V457.8M438.24 451.12h2.8M438.24 457.8h2.8M449.4 451.01V457.69M448 451.01h2.8M448 457.69h2.8M459.16 450.91V457.57M457.76 450.91h2.8M457.76 457.57h2.8M468.92 450.81V457.45M467.52 450.81h2.8M467.52 457.45h2.8M478.68 450.71V457.33M477.28 450.71h2.8M477.28 457.33h2.8M488.44 450.6V457.22M487.04 450.6h2.8M487.04 457.22h2.8M498.2 450.5V457.1M496.8 450.5h2.8M496.8 457.1h2.8" stroke="#a90a32" stroke-width="1.1" fill="none" opacity="0.9"/>
<path d="M303 463.8C304.63 464.37 309.51 466.38 312.76 467.2C316.01 468.02 319.27 468.28 322.52 468.7C325.77 469.12 329.03 470.5 332.28 469.7C335.53 468.9 338.79 465.82 342.04 463.9C345.29 461.98 348.55 459.53 351.8 458.2C355.05 456.87 358.31 456.38 361.56 455.9C364.81 455.42 368.07 455.45 371.32 455.3C374.57 455.15 377.83 455.06 381.08 455C384.33 454.94 387.59 454.97 390.84 454.95C394.09 454.93 397.35 454.93 400.6 454.9C403.85 454.87 407.11 454.83 410.36 454.79C413.61 454.75 416.87 454.72 420.12 454.68C423.37 454.64 426.63 454.61 429.88 454.57C433.13 454.53 436.39 454.5 439.64 454.46C442.89 454.42 446.15 454.39 449.4 454.35C452.65 454.31 455.91 454.28 459.16 454.24C462.41 454.2 465.67 454.17 468.92 454.13C472.17 454.09 475.43 454.06 478.68 454.02C481.93 453.98 485.19 453.95 488.44 453.91C491.69 453.87 496.57 453.82 498.2 453.8" stroke="#a90a32" stroke-width="1.3" fill="none" stroke-dasharray="2.4 1" stroke-dashoffset="0" stroke-linejoin="round" opacity="0.75"/>
<g fill="#a90a32"><circle cx="303" cy="463.8" r="1.1"/><circle cx="312.76" cy="467.2" r="1.1"/><circle cx="322.52" cy="468.7" r="1.1"/><circle cx="332.28" cy="469.7" r="1.1"/><circle cx="342.04" cy="463.9" r="1.1"/><circle cx="351.8" cy="458.2" r="1.1"/><circle cx="361.56" cy="455.9" r="1.1"/><circle cx="371.32" cy="455.3" r="1.1"/><circle cx="381.08" cy="455" r="1.1"/><circle cx="390.84" cy="454.95" r="1.1"/><circle cx="400.6" cy="454.9" r="1.1"/><circle cx="410.36" cy="454.79" r="1.1"/><circle cx="420.12" cy="454.68" r="1.1"/><circle cx="429.88" cy="454.57" r="1.1"/><circle cx="439.64" cy="454.46" r="1.1"/><circle cx="449.4" cy="454.35" r="1.1"/><circle cx="459.16" cy="454.24" r="1.1"/><circle cx="468.92" cy="454.13" r="1.1"/><circle cx="478.68" cy="454.02" r="1.1"/><circle cx="488.44" cy="453.91" r="1.1"/><circle cx="498.2" cy="453.8" r="1.1"/></g>
<path d="M312.76 460.8V464.8M311.36 460.8h2.8M311.36 464.8h2.8M322.52 460.7V464.7M321.12 460.7h2.8M321.12 464.7h2.8M332.28 457.7V464.7M330.88 457.7h2.8M330.88 464.7h2.8M342.04 442.3V448.9M340.64 442.3h2.8M340.64 448.9h2.8M351.8 440.9V448.3M350.4 440.9h2.8M350.4 448.3h2.8M361.56 440.8V448.2M360.16 440.8h2.8M360.16 448.2h2.8M371.32 440.6V448M369.92 440.6h2.8M369.92 448h2.8M381.08 440.4V447.8M379.68 440.4h2.8M379.68 447.8h2.8M390.84 440.4V447.8M389.44 440.4h2.8M389.44 447.8h2.8M400.6 440.4V447.8M399.2 440.4h2.8M399.2 447.8h2.8M410.36 440.27V447.67M408.96 440.27h2.8M408.96 447.67h2.8M420.12 440.14V447.54M418.72 440.14h2.8M418.72 447.54h2.8M429.88 440.01V447.41M428.48 440.01h2.8M428.48 447.41h2.8M439.64 439.88V447.28M438.24 439.88h2.8M438.24 447.28h2.8M449.4 439.75V447.15M448 439.75h2.8M448 447.15h2.8M459.16 439.62V447.02M457.76 439.62h2.8M457.76 447.02h2.8M468.92 439.49V446.89M467.52 439.49h2.8M467.52 446.89h2.8M478.68 439.36V446.76M477.28 439.36h2.8M477.28 446.76h2.8M488.44 439.23V446.63M487.04 439.23h2.8M487.04 446.63h2.8M498.2 439.1V446.5M496.8 439.1h2.8M496.8 446.5h2.8" stroke="#a90a32" stroke-width="1.1" fill="none" opacity="0.9"/>
<path d="M303 463.8 L312.76 462.8 L322.52 462.7 L332.28 461.2 L342.04 445.6 L351.8 444.6 L361.56 444.5 L371.32 444.3 L381.08 444.1 L390.84 444.1 L400.6 444.1 L410.36 443.97 L420.12 443.84 L429.88 443.71 L439.64 443.58 L449.4 443.45 L459.16 443.32 L468.92 443.19 L478.68 443.06 L488.44 442.93 L498.2 442.8" stroke="#a90a32" stroke-width="1.6" fill="none" stroke-linejoin="round" opacity="1"/>
<g fill="#a90a32"><circle cx="303" cy="463.8" r="1.5"/><circle cx="312.76" cy="462.8" r="1.5"/><circle cx="322.52" cy="462.7" r="1.5"/><circle cx="332.28" cy="461.2" r="1.5"/><circle cx="342.04" cy="445.6" r="1.5"/><circle cx="351.8" cy="444.6" r="1.5"/><circle cx="361.56" cy="444.5" r="1.5"/><circle cx="371.32" cy="444.3" r="1.5"/><circle cx="381.08" cy="444.1" r="1.5"/><circle cx="390.84" cy="444.1" r="1.5"/><circle cx="400.6" cy="444.1" r="1.5"/><circle cx="410.36" cy="443.97" r="1.5"/><circle cx="420.12" cy="443.84" r="1.5"/><circle cx="429.88" cy="443.71" r="1.5"/><circle cx="439.64" cy="443.58" r="1.5"/><circle cx="449.4" cy="443.45" r="1.5"/><circle cx="459.16" cy="443.32" r="1.5"/><circle cx="468.92" cy="443.19" r="1.5"/><circle cx="478.68" cy="443.06" r="1.5"/><circle cx="488.44" cy="442.93" r="1.5"/><circle cx="498.2" cy="442.8" r="1.5"/></g>
<path d="M312.76 462.3V464.3M311.36 462.3h2.8M311.36 464.3h2.8M322.52 457.9V460.9M321.12 457.9h2.8M321.12 460.9h2.8M332.28 436V446.6M330.88 436h2.8M330.88 446.6h2.8M342.04 417.2V427.8M340.64 417.2h2.8M340.64 427.8h2.8M351.8 412.2V419.2M350.4 412.2h2.8M350.4 419.2h2.8M361.56 410.9V418.1M360.16 410.9h2.8M360.16 418.1h2.8M371.32 410.7V417.9M369.92 410.7h2.8M369.92 417.9h2.8M381.08 410.4V417.6M379.68 410.4h2.8M379.68 417.6h2.8M390.84 410.4V417.6M389.44 410.4h2.8M389.44 417.6h2.8M400.6 410.4V417.6M399.2 410.4h2.8M399.2 417.6h2.8M410.36 410.23V417.43M408.96 410.23h2.8M408.96 417.43h2.8M420.12 410.06V417.26M418.72 410.06h2.8M418.72 417.26h2.8M429.88 409.89V417.09M428.48 409.89h2.8M428.48 417.09h2.8M439.64 409.72V416.92M438.24 409.72h2.8M438.24 416.92h2.8M449.4 409.55V416.75M448 409.55h2.8M448 416.75h2.8M459.16 409.38V416.58M457.76 409.38h2.8M457.76 416.58h2.8M468.92 409.21V416.41M467.52 409.21h2.8M467.52 416.41h2.8M478.68 409.04V416.24M477.28 409.04h2.8M477.28 416.24h2.8M488.44 408.87V416.07M487.04 408.87h2.8M487.04 416.07h2.8M498.2 408.7V415.9M496.8 408.7h2.8M496.8 415.9h2.8" stroke="#24488a" stroke-width="1.1" fill="none" opacity="0.9"/>
<path d="M303 463.8C304.63 463.72 309.51 464.03 312.76 463.3C316.01 462.57 319.27 463.07 322.52 459.4C325.77 455.73 329.03 447.45 332.28 441.3C335.53 435.15 338.79 426.77 342.04 422.5C345.29 418.23 348.55 417.03 351.8 415.7C355.05 414.37 358.31 414.73 361.56 414.5C364.81 414.27 368.07 414.38 371.32 414.3C374.57 414.22 377.83 414.05 381.08 414C384.33 413.95 387.59 414 390.84 414C394.09 414 397.35 414.03 400.6 414C403.85 413.97 407.11 413.89 410.36 413.83C413.61 413.77 416.87 413.72 420.12 413.66C423.37 413.6 426.63 413.55 429.88 413.49C433.13 413.43 436.39 413.38 439.64 413.32C442.89 413.26 446.15 413.21 449.4 413.15C452.65 413.09 455.91 413.04 459.16 412.98C462.41 412.92 465.67 412.87 468.92 412.81C472.17 412.75 475.43 412.7 478.68 412.64C481.93 412.58 485.19 412.53 488.44 412.47C491.69 412.41 496.57 412.33 498.2 412.3" stroke="#24488a" stroke-width="1.3" fill="none" stroke-linejoin="round" opacity="1"/>
<g fill="#24488a"><circle cx="303" cy="463.8" r="1.3"/><circle cx="312.76" cy="463.3" r="1.3"/><circle cx="322.52" cy="459.4" r="1.3"/><circle cx="332.28" cy="441.3" r="1.3"/><circle cx="342.04" cy="422.5" r="1.3"/><circle cx="351.8" cy="415.7" r="1.3"/><circle cx="361.56" cy="414.5" r="1.3"/><circle cx="371.32" cy="414.3" r="1.3"/><circle cx="381.08" cy="414" r="1.3"/><circle cx="390.84" cy="414" r="1.3"/><circle cx="400.6" cy="414" r="1.3"/><circle cx="410.36" cy="413.83" r="1.3"/><circle cx="420.12" cy="413.66" r="1.3"/><circle cx="429.88" cy="413.49" r="1.3"/><circle cx="439.64" cy="413.32" r="1.3"/><circle cx="449.4" cy="413.15" r="1.3"/><circle cx="459.16" cy="412.98" r="1.3"/><circle cx="468.92" cy="412.81" r="1.3"/><circle cx="478.68" cy="412.64" r="1.3"/><circle cx="488.44" cy="412.47" r="1.3"/><circle cx="498.2" cy="412.3" r="1.3"/></g>
<path d="M342.04 432.8V440.8M340.64 432.8h2.8M340.64 440.8h2.8M351.8 417.4V425.4M350.4 417.4h2.8M350.4 425.4h2.8M361.56 407.3V415.3M360.16 407.3h2.8M360.16 415.3h2.8M371.32 404.75V412.75M369.92 404.75h2.8M369.92 412.75h2.8M381.08 404.3V412.3M379.68 404.3h2.8M379.68 412.3h2.8M390.84 404.3V412.3M389.44 404.3h2.8M389.44 412.3h2.8M400.6 404.18V412.18M399.2 404.18h2.8M399.2 412.18h2.8M410.36 404.06V412.06M408.96 404.06h2.8M408.96 412.06h2.8M420.12 403.95V411.95M418.72 403.95h2.8M418.72 411.95h2.8M429.88 403.83V411.83M428.48 403.83h2.8M428.48 411.83h2.8M439.64 403.71V411.71M438.24 403.71h2.8M438.24 411.71h2.8M449.4 403.59V411.59M448 403.59h2.8M448 411.59h2.8M459.16 403.47V411.47M457.76 403.47h2.8M457.76 411.47h2.8M468.92 403.35V411.35M467.52 403.35h2.8M467.52 411.35h2.8M478.68 403.24V411.24M477.28 403.24h2.8M477.28 411.24h2.8M488.44 403.12V411.12M487.04 403.12h2.8M487.04 411.12h2.8M498.2 403V411M496.8 403h2.8M496.8 411h2.8" stroke="#24488a" stroke-width="1.1" fill="none" opacity="0.9"/>
<path d="M303 463.8C304.63 463.47 309.51 462.72 312.76 461.8C316.01 460.88 319.27 460.13 322.52 458.3C325.77 456.47 329.03 454.38 332.28 450.8C335.53 447.22 338.79 441.7 342.04 436.8C345.29 431.9 348.55 425.65 351.8 421.4C355.05 417.15 358.31 413.41 361.56 411.3C364.81 409.19 368.07 409.25 371.32 408.75C374.57 408.25 377.83 408.38 381.08 408.3C384.33 408.23 387.59 408.32 390.84 408.3C394.09 408.28 397.35 408.22 400.6 408.18C403.85 408.14 407.11 408.1 410.36 408.06C413.61 408.02 416.87 407.98 420.12 407.95C423.37 407.91 426.63 407.87 429.88 407.83C433.13 407.79 436.39 407.75 439.64 407.71C442.89 407.67 446.15 407.63 449.4 407.59C452.65 407.55 455.91 407.51 459.16 407.47C462.41 407.43 465.67 407.39 468.92 407.35C472.17 407.32 475.43 407.28 478.68 407.24C481.93 407.2 485.19 407.16 488.44 407.12C491.69 407.08 496.57 407.02 498.2 407" stroke="#24488a" stroke-width="1.0" fill="none" stroke-dasharray="2.2 1" stroke-dashoffset="0" stroke-linejoin="round" opacity="0.8"/>
<g fill="#111" stroke="#24488a" stroke-width="0.8"><circle cx="303" cy="463.8" r="1.7"/><circle cx="312.76" cy="461.8" r="1.7"/><circle cx="322.52" cy="458.3" r="1.7"/><circle cx="332.28" cy="450.8" r="1.7"/><circle cx="342.04" cy="436.8" r="1.7"/><circle cx="351.8" cy="421.4" r="1.7"/><circle cx="361.56" cy="411.3" r="1.7"/><circle cx="371.32" cy="408.75" r="1.7"/><circle cx="381.08" cy="408.3" r="1.7"/><circle cx="390.84" cy="408.3" r="1.7"/><circle cx="400.6" cy="408.18" r="1.7"/><circle cx="410.36" cy="408.06" r="1.7"/><circle cx="420.12" cy="407.95" r="1.7"/><circle cx="429.88" cy="407.83" r="1.7"/><circle cx="439.64" cy="407.71" r="1.7"/><circle cx="449.4" cy="407.59" r="1.7"/><circle cx="459.16" cy="407.47" r="1.7"/><circle cx="468.92" cy="407.35" r="1.7"/><circle cx="478.68" cy="407.24" r="1.7"/><circle cx="488.44" cy="407.12" r="1.7"/><circle cx="498.2" cy="407" r="1.7"/></g>
<path d="M309.8 369.6H322.7" stroke="#62b23e" stroke-width="1.6" opacity="1"/>
<circle cx="316.25" cy="369.6" r="1.5" fill="#62b23e"/>
<text x="326.2" y="372.1" font-size="9" fill="#231f20" stroke="#231f20" stroke-width="0.2" textLength="40" lengthAdjust="spacingAndGlyphs">DMSO+CVX</text>
<path d="M309.8 380.2H322.7" stroke="#a90a32" stroke-width="1.6" opacity="1"/>
<circle cx="316.25" cy="380.2" r="1.5" fill="#a90a32"/>
<text x="326.2" y="382.7" font-size="9" fill="#231f20" stroke="#231f20" stroke-width="0.2" textLength="66.8" lengthAdjust="spacingAndGlyphs">DMSO+OxLDL+CVX</text>
<path d="M309.8 390.7H322.7" stroke="#24488a" stroke-width="1.6" opacity="1"/>
<circle cx="316.25" cy="390.7" r="1.5" fill="#24488a"/>
<text x="326.2" y="393.2" font-size="9" fill="#231f20" stroke="#231f20" stroke-width="0.2" textLength="56.1" lengthAdjust="spacingAndGlyphs">DMSO+THR/CVX</text>
<path d="M407.7 369.4H421.2" stroke="#62b23e" stroke-width="1.1" stroke-dasharray="2 1" opacity="0.75"/>
<circle cx="414.45" cy="369.4" r="1.5" fill="#62b23e"/>
<text x="425" y="371.9" font-size="9" fill="#231f20" stroke="#231f20" stroke-width="0.2" textLength="51.7" lengthAdjust="spacingAndGlyphs">ZVADFMK+CVX</text>
<path d="M407.7 380H421.2" stroke="#a90a32" stroke-width="1.1" stroke-dasharray="2 1" opacity="0.75"/>
<circle cx="414.45" cy="380" r="1.5" fill="#a90a32"/>
<text x="425" y="382.5" font-size="9" fill="#231f20" stroke="#231f20" stroke-width="0.2" textLength="78.4" lengthAdjust="spacingAndGlyphs">ZVADFMK+OxLDL+CVX</text>
<path d="M407.7 390.5H421.2" stroke="#24488a" stroke-width="1.1" stroke-dasharray="2 1" opacity="0.75"/>
<circle cx="414.45" cy="390.5" r="1.7" fill="#111"/>
<text x="425" y="393" font-size="9" fill="#231f20" stroke="#231f20" stroke-width="0.2" textLength="68.1" lengthAdjust="spacingAndGlyphs">ZVADFMK+THR/CVX</text>
<rect x="0.7" y="0.6" width="518.6" height="544.7" fill="none" stroke="#1c1c1c" stroke-width="1.5"/>
</svg>
</body></html>
